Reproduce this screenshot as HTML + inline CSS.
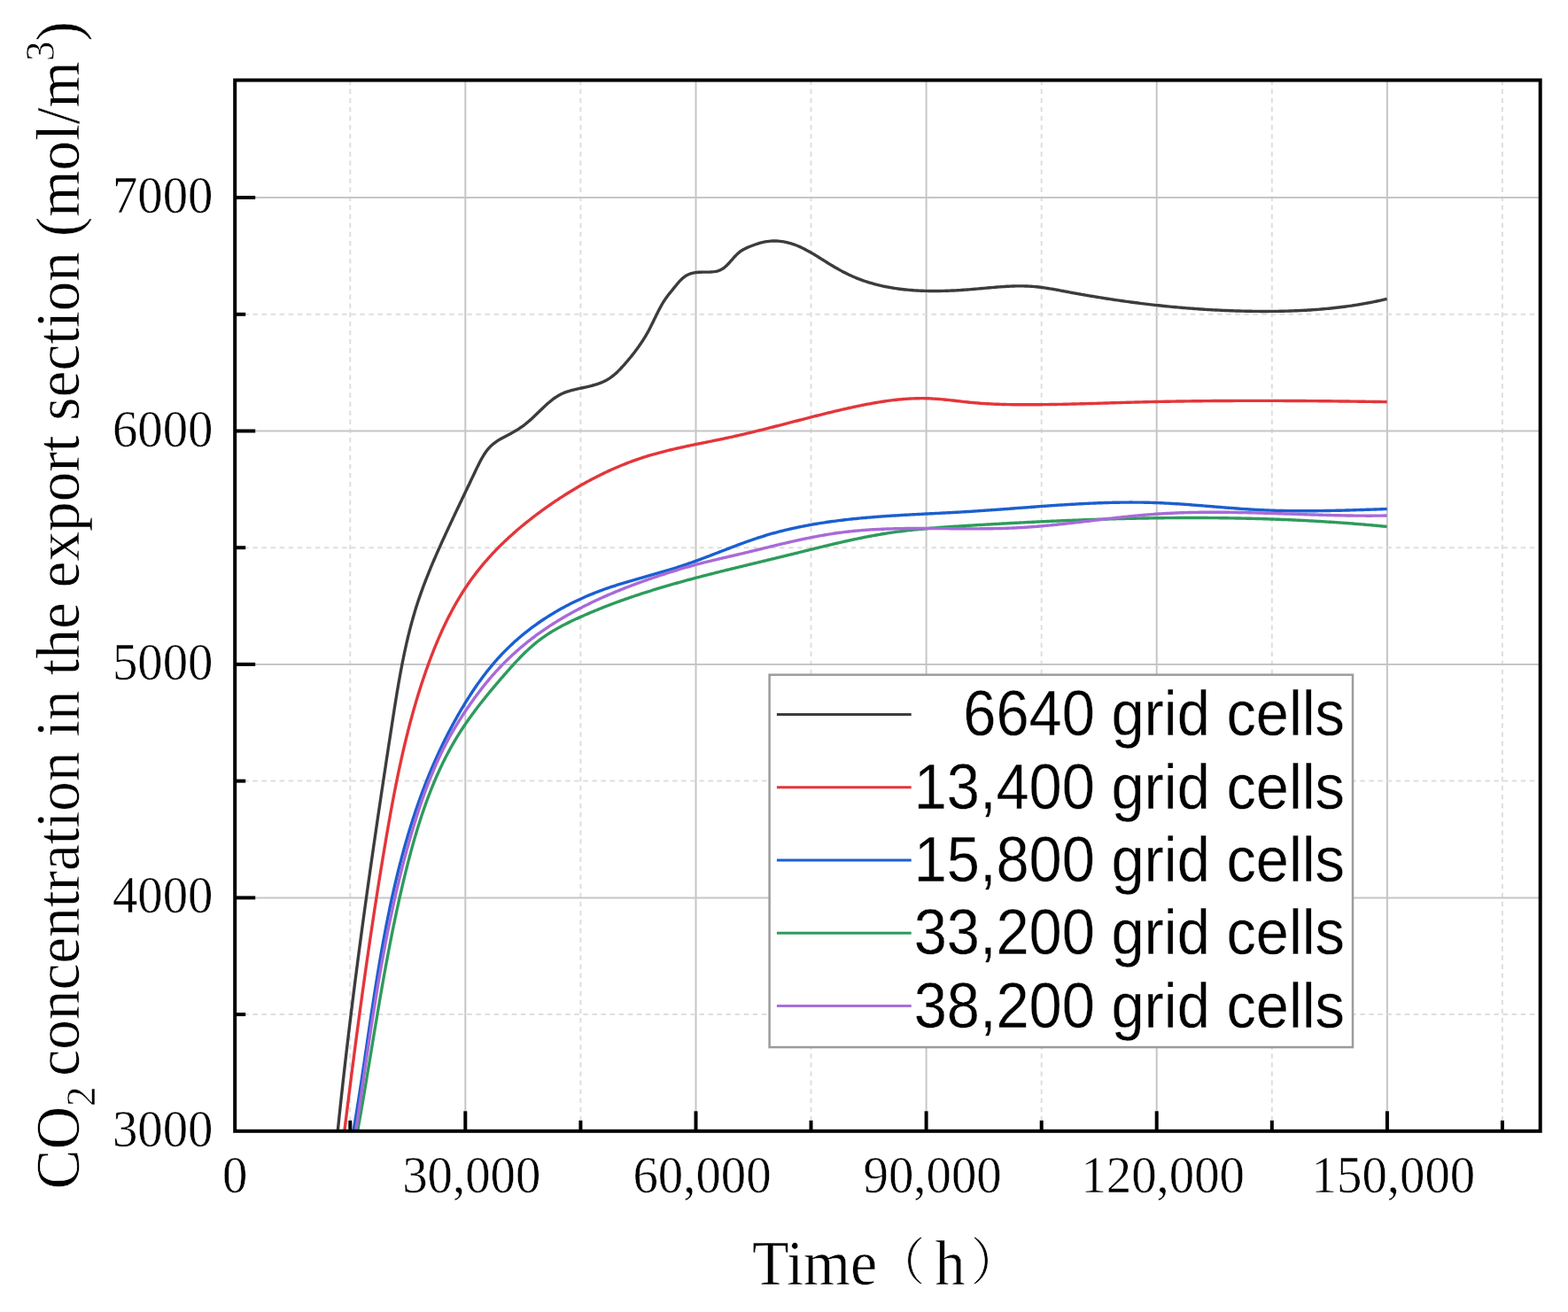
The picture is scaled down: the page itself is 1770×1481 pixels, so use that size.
<!DOCTYPE html>
<html><head><meta charset="utf-8"><title>CO2 concentration chart</title>
<style>html,body{margin:0;padding:0;background:#fff;width:1770px;height:1481px;overflow:hidden}svg{display:block}text{stroke:#fff;stroke-width:0.5px}</style>
</head><body>
<svg width="1770" height="1481" viewBox="0 0 1770 1481">
<rect width="1770" height="1481" fill="#fff"/>
<g id="grid"><line x1="525.3" y1="90.5" x2="525.3" y2="1276.8" stroke="#c6c6c6" stroke-width="2"/><line x1="785.5" y1="90.5" x2="785.5" y2="1276.8" stroke="#c6c6c6" stroke-width="2"/><line x1="1045.6" y1="90.5" x2="1045.6" y2="1276.8" stroke="#c6c6c6" stroke-width="2"/><line x1="1305.7" y1="90.5" x2="1305.7" y2="1276.8" stroke="#c6c6c6" stroke-width="2"/><line x1="1565.9" y1="90.5" x2="1565.9" y2="1276.8" stroke="#c6c6c6" stroke-width="2"/><line x1="395.3" y1="90.5" x2="395.3" y2="1276.8" stroke="#dedede" stroke-width="2" stroke-dasharray="5.5 4.58"/><line x1="655.4" y1="90.5" x2="655.4" y2="1276.8" stroke="#dedede" stroke-width="2" stroke-dasharray="5.5 4.58"/><line x1="915.5" y1="90.5" x2="915.5" y2="1276.8" stroke="#dedede" stroke-width="2" stroke-dasharray="5.5 4.58"/><line x1="1175.7" y1="90.5" x2="1175.7" y2="1276.8" stroke="#dedede" stroke-width="2" stroke-dasharray="5.5 4.58"/><line x1="1435.8" y1="90.5" x2="1435.8" y2="1276.8" stroke="#dedede" stroke-width="2" stroke-dasharray="5.5 4.58"/><line x1="1695.9" y1="90.5" x2="1695.9" y2="1276.8" stroke="#dedede" stroke-width="2" stroke-dasharray="5.5 4.58"/><line x1="265.2" y1="1013.4" x2="1738.7" y2="1013.4" stroke="#c6c6c6" stroke-width="2"/><line x1="265.2" y1="749.9" x2="1738.7" y2="749.9" stroke="#c6c6c6" stroke-width="2"/><line x1="265.2" y1="486.5" x2="1738.7" y2="486.5" stroke="#c6c6c6" stroke-width="2"/><line x1="265.2" y1="223.0" x2="1738.7" y2="223.0" stroke="#c6c6c6" stroke-width="2"/><line x1="265.2" y1="1145.1" x2="1738.7" y2="1145.1" stroke="#dedede" stroke-width="2" stroke-dasharray="5.5 4.58"/><line x1="265.2" y1="881.6" x2="1738.7" y2="881.6" stroke="#dedede" stroke-width="2" stroke-dasharray="5.5 4.58"/><line x1="265.2" y1="618.2" x2="1738.7" y2="618.2" stroke="#dedede" stroke-width="2" stroke-dasharray="5.5 4.58"/><line x1="265.2" y1="354.8" x2="1738.7" y2="354.8" stroke="#dedede" stroke-width="2" stroke-dasharray="5.5 4.58"/></g>
<clipPath id="pc"><rect x="265.2" y="90.5" width="1473.5" height="1186.3"/></clipPath><g clip-path="url(#pc)" fill="none" stroke-width="3.4" stroke-linejoin="round" stroke-linecap="butt"><path d="M380.91,1280.02 L381.13,1277.89 L381.35,1275.76 L381.57,1273.62 L381.79,1271.49 L382.01,1269.36 L382.23,1267.22 L382.46,1265.09 L382.68,1262.96 L382.91,1260.82 L383.13,1258.69 L383.36,1256.56 L383.58,1254.43 L383.81,1252.30 L384.04,1250.16 L384.27,1248.03 L384.50,1245.90 L384.73,1243.77 L384.96,1241.64 L385.19,1239.51 L385.43,1237.38 L385.66,1235.25 L385.89,1233.12 L386.13,1230.99 L386.37,1228.86 L386.60,1226.73 L386.84,1224.60 L387.08,1222.47 L387.31,1220.34 L387.55,1218.21 L387.79,1216.08 L388.03,1213.95 L388.28,1211.83 L388.52,1209.70 L388.76,1207.57 L389.00,1205.44 L389.25,1203.31 L389.49,1201.19 L389.74,1199.06 L389.98,1196.93 L390.23,1194.80 L390.48,1192.68 L390.72,1190.55 L390.97,1188.42 L391.22,1186.30 L391.47,1184.17 L391.72,1182.04 L391.97,1179.92 L392.23,1177.79 L392.48,1175.67 L392.73,1173.54 L392.98,1171.41 L393.24,1169.29 L393.49,1167.16 L393.75,1165.04 L394.01,1162.91 L394.26,1160.79 L394.52,1158.66 L394.78,1156.54 L395.04,1154.41 L395.30,1152.29 L395.56,1150.17 L395.82,1148.04 L396.08,1145.92 L396.34,1143.79 L396.60,1141.67 L396.87,1139.55 L397.13,1137.42 L397.39,1135.30 L397.66,1133.18 L397.92,1131.05 L398.19,1128.93 L398.46,1126.81 L398.72,1124.68 L398.99,1122.56 L399.26,1120.44 L399.53,1118.31 L399.80,1116.19 L400.07,1114.07 L400.34,1111.95 L400.61,1109.83 L400.88,1107.70 L401.15,1105.58 L401.43,1103.46 L401.70,1101.34 L401.98,1099.22 L402.25,1097.09 L402.53,1094.97 L402.80,1092.85 L403.08,1090.73 L403.35,1088.61 L403.63,1086.49 L403.91,1084.37 L404.19,1082.25 L404.47,1080.13 L404.75,1078.00 L405.03,1075.88 L405.31,1073.76 L405.59,1071.64 L405.87,1069.52 L406.15,1067.40 L406.44,1065.28 L406.72,1063.16 L407.00,1061.04 L407.29,1058.92 L407.57,1056.80 L407.86,1054.68 L408.14,1052.56 L408.43,1050.44 L408.72,1048.32 L409.00,1046.20 L409.29,1044.08 L409.58,1041.96 L409.87,1039.84 L410.16,1037.73 L410.45,1035.61 L410.74,1033.49 L411.03,1031.37 L411.32,1029.25 L411.61,1027.13 L411.91,1025.01 L412.20,1022.89 L412.49,1020.77 L412.78,1018.65 L413.08,1016.53 L413.37,1014.42 L413.67,1012.30 L413.96,1010.18 L414.26,1008.06 L414.56,1005.94 L414.85,1003.82 L415.15,1001.70 L415.45,999.59 L415.75,997.47 L416.05,995.35 L416.35,993.23 L416.65,991.11 L416.95,988.99 L417.25,986.88 L417.55,984.76 L417.85,982.64 L418.15,980.52 L418.45,978.40 L418.76,976.28 L419.06,974.17 L419.36,972.05 L419.67,969.93 L419.97,967.81 L420.28,965.69 L420.58,963.58 L420.89,961.46 L421.19,959.34 L421.50,957.22 L421.81,955.10 L422.11,952.99 L422.42,950.87 L422.73,948.75 L423.04,946.63 L423.35,944.51 L423.66,942.40 L423.97,940.28 L424.28,938.16 L424.59,936.04 L424.90,933.92 L425.21,931.81 L425.52,929.69 L425.83,927.57 L426.14,925.45 L426.46,923.33 L426.77,921.22 L427.08,919.10 L427.40,916.98 L427.71,914.86 L428.03,912.75 L428.34,910.63 L428.66,908.51 L428.97,906.39 L429.29,904.27 L429.60,902.16 L429.92,900.04 L430.24,897.92 L430.55,895.80 L430.87,893.68 L431.19,891.56 L431.51,889.45 L431.83,887.33 L432.15,885.21 L432.47,883.09 L432.79,880.97 L433.11,878.85 L433.43,876.74 L433.75,874.62 L434.07,872.50 L434.39,870.38 L434.71,868.26 L435.03,866.14 L435.35,864.03 L435.68,861.91 L436.00,859.79 L436.32,857.67 L436.65,855.55 L436.97,853.43 L437.29,851.31 L437.62,849.19 L437.94,847.08 L438.27,844.96 L438.59,842.84 L438.92,840.72 L439.24,838.60 L439.57,836.48 L439.89,834.36 L440.22,832.24 L440.55,830.12 L440.87,828.00 L441.20,825.88 L441.53,823.76 L441.86,821.64 L442.19,819.52 L442.51,817.40 L442.84,815.28 L443.17,813.16 L443.50,811.04 L443.83,808.92 L444.16,806.80 L444.49,804.68 L444.82,802.57 L445.16,800.45 L445.49,798.33 L445.83,796.21 L446.17,794.09 L446.51,791.97 L446.85,789.85 L447.19,787.74 L447.54,785.62 L447.89,783.50 L448.24,781.39 L448.59,779.27 L448.95,777.16 L449.31,775.05 L449.67,772.93 L450.04,770.82 L450.41,768.71 L450.78,766.60 L451.16,764.49 L451.54,762.39 L451.93,760.28 L452.32,758.17 L452.71,756.07 L453.11,753.96 L453.51,751.86 L453.92,749.76 L454.33,747.66 L454.75,745.56 L455.17,743.47 L455.60,741.37 L456.04,739.28 L456.48,737.19 L456.92,735.10 L457.37,733.01 L457.83,730.92 L458.30,728.84 L458.77,726.75 L459.24,724.67 L459.73,722.59 L460.22,720.51 L460.72,718.44 L461.22,716.36 L461.74,714.29 L462.26,712.22 L462.79,710.15 L463.32,708.09 L463.87,706.02 L464.42,703.96 L464.98,701.90 L465.55,699.85 L466.13,697.79 L466.71,695.74 L467.31,693.69 L467.91,691.65 L468.53,689.60 L469.15,687.56 L469.78,685.52 L470.43,683.49 L471.08,681.46 L471.74,679.43 L472.41,677.40 L473.10,675.37 L473.79,673.35 L474.49,671.33 L475.20,669.32 L475.92,667.31 L476.65,665.30 L477.39,663.29 L478.13,661.28 L478.89,659.28 L479.65,657.28 L480.42,655.29 L481.19,653.29 L481.98,651.30 L482.77,649.31 L483.57,647.33 L484.37,645.34 L485.18,643.36 L486.00,641.38 L486.82,639.41 L487.65,637.43 L488.48,635.46 L489.32,633.50 L490.16,631.53 L491.01,629.57 L491.87,627.61 L492.72,625.65 L493.58,623.69 L494.45,621.74 L495.32,619.79 L496.19,617.84 L497.07,615.89 L497.94,613.95 L498.82,612.01 L499.71,610.07 L500.59,608.13 L501.48,606.19 L502.37,604.26 L503.26,602.33 L504.15,600.40 L505.05,598.48 L505.94,596.55 L506.83,594.63 L507.73,592.71 L508.63,590.79 L509.53,588.87 L510.42,586.96 L511.32,585.04 L512.23,583.13 L513.13,581.21 L514.03,579.30 L514.94,577.39 L515.84,575.48 L516.75,573.56 L517.66,571.65 L518.56,569.73 L519.47,567.82 L520.38,565.90 L521.30,563.99 L522.21,562.07 L523.12,560.15 L524.04,558.23 L524.96,556.31 L525.88,554.38 L526.80,552.46 L527.72,550.53 L528.64,548.59 L529.56,546.66 L530.49,544.72 L531.41,542.78 L532.34,540.84 L533.27,538.89 L534.20,536.94 L535.13,534.98 L536.06,533.03 L536.99,531.06 L537.93,529.09 L538.87,527.13 L539.83,525.17 L540.79,523.22 L541.78,521.28 L542.79,519.37 L543.83,517.48 L544.91,515.61 L546.02,513.79 L547.17,512.00 L548.37,510.26 L549.63,508.56 L550.94,506.93 L552.30,505.35 L553.74,503.85 L555.25,502.42 L556.83,501.07 L558.47,499.79 L560.17,498.57 L561.93,497.41 L563.73,496.30 L565.56,495.23 L567.43,494.18 L569.32,493.16 L571.22,492.16 L573.13,491.16 L575.04,490.16 L576.95,489.15 L578.84,488.12 L580.71,487.06 L582.55,485.97 L584.36,484.85 L586.15,483.70 L587.91,482.51 L589.65,481.28 L591.36,480.03 L593.05,478.73 L594.71,477.41 L596.35,476.05 L597.97,474.66 L599.57,473.24 L601.16,471.79 L602.73,470.32 L604.30,468.83 L605.86,467.32 L607.42,465.80 L608.98,464.27 L610.54,462.75 L612.11,461.23 L613.69,459.72 L615.28,458.23 L616.88,456.76 L618.49,455.32 L620.13,453.92 L621.79,452.55 L623.47,451.23 L625.17,449.96 L626.91,448.74 L628.67,447.59 L630.47,446.50 L632.31,445.48 L634.19,444.55 L636.10,443.69 L638.05,442.91 L640.04,442.20 L642.06,441.55 L644.10,440.95 L646.16,440.39 L648.25,439.87 L650.35,439.38 L652.46,438.91 L654.57,438.45 L656.69,437.99 L658.82,437.53 L660.93,437.06 L663.05,436.58 L665.15,436.08 L667.24,435.56 L669.32,435.00 L671.38,434.41 L673.42,433.78 L675.44,433.11 L677.43,432.39 L679.38,431.61 L681.31,430.76 L683.20,429.86 L685.05,428.88 L686.86,427.82 L688.63,426.68 L690.35,425.46 L692.03,424.17 L693.67,422.81 L695.27,421.39 L696.84,419.91 L698.38,418.39 L699.89,416.83 L701.39,415.25 L702.86,413.64 L704.32,412.02 L705.76,410.39 L707.18,408.75 L708.60,407.10 L710.00,405.44 L711.38,403.77 L712.74,402.10 L714.09,400.41 L715.42,398.72 L716.74,397.01 L718.03,395.29 L719.31,393.57 L720.56,391.83 L721.80,390.07 L723.01,388.31 L724.21,386.53 L725.38,384.74 L726.53,382.94 L727.66,381.13 L728.76,379.30 L729.84,377.45 L730.90,375.59 L731.93,373.72 L732.94,371.83 L733.92,369.93 L734.89,368.02 L735.85,366.10 L736.79,364.17 L737.73,362.24 L738.66,360.32 L739.59,358.39 L740.53,356.46 L741.47,354.55 L742.43,352.64 L743.39,350.73 L744.38,348.85 L745.38,346.97 L746.41,345.12 L747.46,343.28 L748.55,341.46 L749.67,339.67 L750.82,337.90 L752.02,336.17 L753.26,334.46 L754.55,332.78 L755.87,331.12 L757.22,329.47 L758.59,327.81 L759.96,326.12 L761.32,324.41 L762.70,322.69 L764.09,320.98 L765.50,319.30 L766.95,317.68 L768.43,316.12 L769.96,314.65 L771.55,313.28 L773.20,312.04 L774.92,310.94 L776.72,310.00 L778.59,309.22 L780.53,308.58 L782.53,308.08 L784.59,307.70 L786.70,307.44 L788.86,307.28 L791.04,307.19 L793.25,307.15 L795.47,307.15 L797.69,307.14 L799.90,307.12 L802.08,307.05 L804.24,306.91 L806.34,306.67 L808.40,306.32 L810.39,305.83 L812.30,305.17 L814.13,304.32 L815.87,303.29 L817.54,302.09 L819.14,300.75 L820.69,299.29 L822.21,297.74 L823.70,296.13 L825.17,294.47 L826.63,292.79 L828.11,291.12 L829.60,289.48 L831.12,287.89 L832.68,286.38 L834.30,284.97 L835.98,283.68 L837.73,282.52 L839.53,281.46 L841.39,280.50 L843.29,279.61 L845.23,278.78 L847.21,277.99 L849.21,277.24 L851.23,276.49 L853.27,275.76 L855.33,275.07 L857.40,274.42 L859.48,273.84 L861.58,273.34 L863.69,272.92 L865.80,272.58 L867.93,272.32 L870.05,272.14 L872.18,272.03 L874.30,272.00 L876.43,272.05 L878.55,272.16 L880.66,272.35 L882.76,272.61 L884.85,272.93 L886.92,273.32 L888.98,273.78 L891.02,274.30 L893.04,274.89 L895.04,275.53 L897.03,276.22 L899.00,276.97 L900.95,277.77 L902.89,278.62 L904.82,279.50 L906.74,280.43 L908.64,281.39 L910.53,282.39 L912.42,283.41 L914.29,284.47 L916.16,285.55 L918.02,286.64 L919.88,287.76 L921.73,288.89 L923.57,290.03 L925.42,291.19 L927.26,292.34 L929.10,293.50 L930.94,294.66 L932.78,295.81 L934.62,296.95 L936.47,298.09 L938.32,299.21 L940.17,300.32 L942.03,301.42 L943.89,302.50 L945.75,303.56 L947.63,304.61 L949.51,305.63 L951.39,306.64 L953.29,307.62 L955.19,308.58 L957.10,309.52 L959.02,310.44 L960.94,311.32 L962.88,312.18 L964.83,313.02 L966.78,313.83 L968.75,314.61 L970.72,315.36 L972.71,316.10 L974.70,316.80 L976.70,317.49 L978.71,318.14 L980.72,318.78 L982.75,319.39 L984.78,319.98 L986.81,320.54 L988.86,321.09 L990.91,321.61 L992.97,322.11 L995.04,322.58 L997.11,323.04 L999.19,323.47 L1001.27,323.89 L1003.36,324.28 L1005.46,324.66 L1007.56,325.01 L1009.66,325.35 L1011.77,325.66 L1013.89,325.96 L1016.01,326.24 L1018.13,326.50 L1020.26,326.75 L1022.40,326.97 L1024.53,327.18 L1026.67,327.38 L1028.82,327.55 L1030.96,327.71 L1033.11,327.86 L1035.27,327.99 L1037.42,328.10 L1039.58,328.20 L1041.74,328.29 L1043.90,328.36 L1046.06,328.42 L1048.23,328.46 L1050.40,328.49 L1052.57,328.51 L1054.74,328.51 L1056.91,328.51 L1059.08,328.49 L1061.25,328.46 L1063.42,328.42 L1065.59,328.36 L1067.76,328.30 L1069.94,328.23 L1072.11,328.14 L1074.28,328.05 L1076.45,327.95 L1078.62,327.84 L1080.78,327.72 L1082.95,327.59 L1085.11,327.45 L1087.28,327.31 L1089.44,327.16 L1091.59,327.00 L1093.75,326.84 L1095.90,326.66 L1098.05,326.49 L1100.20,326.30 L1102.35,326.12 L1104.49,325.93 L1106.63,325.73 L1108.76,325.54 L1110.90,325.34 L1113.03,325.15 L1115.16,324.95 L1117.29,324.76 L1119.41,324.57 L1121.54,324.39 L1123.66,324.21 L1125.78,324.04 L1127.90,323.88 L1130.02,323.72 L1132.13,323.58 L1134.25,323.44 L1136.36,323.32 L1138.48,323.21 L1140.59,323.12 L1142.70,323.04 L1144.81,322.97 L1146.93,322.92 L1149.04,322.89 L1151.15,322.88 L1153.26,322.89 L1155.37,322.92 L1157.48,322.97 L1159.59,323.05 L1161.70,323.14 L1163.81,323.27 L1165.92,323.42 L1168.03,323.59 L1170.15,323.80 L1172.26,324.02 L1174.37,324.27 L1176.49,324.54 L1178.60,324.84 L1180.72,325.14 L1182.83,325.47 L1184.95,325.81 L1187.07,326.16 L1189.18,326.53 L1191.30,326.90 L1193.42,327.29 L1195.54,327.68 L1197.66,328.07 L1199.78,328.47 L1201.89,328.87 L1204.01,329.27 L1206.13,329.67 L1208.25,330.06 L1210.37,330.46 L1212.49,330.85 L1214.61,331.23 L1216.73,331.61 L1218.85,331.99 L1220.97,332.37 L1223.09,332.74 L1225.21,333.11 L1227.33,333.48 L1229.45,333.84 L1231.57,334.20 L1233.69,334.55 L1235.81,334.91 L1237.93,335.26 L1240.05,335.60 L1242.17,335.94 L1244.29,336.28 L1246.42,336.62 L1248.54,336.95 L1250.66,337.28 L1252.78,337.61 L1254.90,337.93 L1257.02,338.25 L1259.15,338.56 L1261.27,338.87 L1263.39,339.18 L1265.51,339.48 L1267.64,339.78 L1269.76,340.08 L1271.88,340.38 L1274.00,340.67 L1276.13,340.95 L1278.25,341.23 L1280.37,341.51 L1282.50,341.79 L1284.62,342.06 L1286.75,342.33 L1288.87,342.60 L1291.00,342.86 L1293.12,343.11 L1295.25,343.37 L1297.37,343.62 L1299.50,343.86 L1301.62,344.11 L1303.75,344.35 L1305.87,344.58 L1308.00,344.81 L1310.13,345.04 L1312.25,345.26 L1314.38,345.48 L1316.51,345.70 L1318.63,345.91 L1320.76,346.12 L1322.89,346.33 L1325.02,346.53 L1327.14,346.72 L1329.27,346.92 L1331.40,347.11 L1333.53,347.29 L1335.66,347.47 L1337.79,347.65 L1339.92,347.83 L1342.05,348.00 L1344.18,348.16 L1346.31,348.32 L1348.44,348.48 L1350.57,348.64 L1352.70,348.79 L1354.83,348.93 L1356.96,349.07 L1359.09,349.21 L1361.23,349.35 L1363.36,349.48 L1365.49,349.60 L1367.62,349.72 L1369.76,349.84 L1371.89,349.96 L1374.03,350.07 L1376.16,350.17 L1378.29,350.27 L1380.43,350.37 L1382.56,350.46 L1384.70,350.55 L1386.83,350.64 L1388.97,350.72 L1391.11,350.79 L1393.24,350.87 L1395.38,350.93 L1397.52,351.00 L1399.65,351.06 L1401.79,351.11 L1403.93,351.16 L1406.07,351.21 L1408.21,351.25 L1410.34,351.29 L1412.48,351.32 L1414.62,351.35 L1416.76,351.38 L1418.90,351.40 L1421.04,351.42 L1423.19,351.43 L1425.33,351.44 L1427.47,351.44 L1429.61,351.44 L1431.75,351.43 L1433.90,351.42 L1436.04,351.41 L1438.18,351.39 L1440.32,351.36 L1442.47,351.33 L1444.61,351.30 L1446.75,351.25 L1448.89,351.21 L1451.04,351.16 L1453.18,351.10 L1455.32,351.03 L1457.46,350.96 L1459.61,350.89 L1461.75,350.81 L1463.89,350.72 L1466.03,350.63 L1468.17,350.53 L1470.31,350.42 L1472.45,350.31 L1474.59,350.19 L1476.73,350.06 L1478.87,349.93 L1481.01,349.79 L1483.15,349.64 L1485.28,349.49 L1487.42,349.33 L1489.55,349.16 L1491.69,348.98 L1493.82,348.80 L1495.96,348.61 L1498.09,348.41 L1500.22,348.20 L1502.35,347.99 L1504.48,347.76 L1506.61,347.53 L1508.74,347.30 L1510.86,347.05 L1512.99,346.79 L1515.11,346.53 L1517.24,346.26 L1519.36,345.98 L1521.48,345.69 L1523.60,345.39 L1525.72,345.08 L1527.83,344.76 L1529.95,344.44 L1532.06,344.10 L1534.17,343.76 L1536.29,343.40 L1538.40,343.04 L1540.50,342.66 L1542.61,342.28 L1544.72,341.89 L1546.82,341.49 L1548.92,341.07 L1551.02,340.65 L1553.12,340.22 L1555.22,339.77 L1557.31,339.32 L1559.40,338.85 L1561.49,338.38 L1563.58,337.89 L1565.67,337.40" stroke="#3c3c3c"/><path d="M388.44,1279.95 L388.68,1278.04 L388.92,1276.12 L389.15,1274.21 L389.39,1272.29 L389.63,1270.38 L389.86,1268.46 L390.10,1266.55 L390.34,1264.63 L390.57,1262.72 L390.81,1260.80 L391.05,1258.89 L391.29,1256.97 L391.53,1255.06 L391.77,1253.14 L392.01,1251.23 L392.25,1249.31 L392.49,1247.39 L392.73,1245.48 L392.97,1243.56 L393.21,1241.65 L393.45,1239.73 L393.69,1237.82 L393.93,1235.90 L394.17,1233.99 L394.41,1232.07 L394.66,1230.15 L394.90,1228.24 L395.14,1226.32 L395.39,1224.41 L395.63,1222.49 L395.87,1220.57 L396.12,1218.66 L396.36,1216.74 L396.61,1214.83 L396.85,1212.91 L397.10,1211.00 L397.35,1209.08 L397.59,1207.16 L397.84,1205.25 L398.09,1203.33 L398.33,1201.42 L398.58,1199.50 L398.83,1197.58 L399.08,1195.67 L399.33,1193.75 L399.58,1191.83 L399.83,1189.92 L400.08,1188.00 L400.33,1186.09 L400.58,1184.17 L400.83,1182.25 L401.08,1180.34 L401.33,1178.42 L401.59,1176.51 L401.84,1174.59 L402.09,1172.67 L402.35,1170.76 L402.60,1168.84 L402.86,1166.93 L403.11,1165.01 L403.37,1163.10 L403.62,1161.18 L403.88,1159.26 L404.13,1157.35 L404.39,1155.43 L404.65,1153.52 L404.91,1151.60 L405.17,1149.69 L405.42,1147.77 L405.68,1145.85 L405.94,1143.94 L406.20,1142.02 L406.47,1140.11 L406.73,1138.19 L406.99,1136.28 L407.25,1134.36 L407.51,1132.45 L407.78,1130.53 L408.04,1128.62 L408.30,1126.70 L408.57,1124.79 L408.83,1122.87 L409.10,1120.96 L409.36,1119.04 L409.63,1117.13 L409.90,1115.21 L410.17,1113.30 L410.43,1111.38 L410.70,1109.47 L410.97,1107.55 L411.24,1105.64 L411.51,1103.72 L411.78,1101.81 L412.05,1099.89 L412.32,1097.98 L412.60,1096.07 L412.87,1094.15 L413.14,1092.24 L413.42,1090.32 L413.69,1088.41 L413.97,1086.50 L414.24,1084.58 L414.52,1082.67 L414.79,1080.76 L415.07,1078.84 L415.35,1076.93 L415.63,1075.02 L415.91,1073.10 L416.19,1071.19 L416.47,1069.28 L416.75,1067.36 L417.03,1065.45 L417.31,1063.54 L417.59,1061.62 L417.88,1059.71 L418.16,1057.80 L418.44,1055.89 L418.73,1053.98 L419.01,1052.06 L419.30,1050.15 L419.59,1048.24 L419.87,1046.33 L420.16,1044.42 L420.45,1042.50 L420.74,1040.59 L421.03,1038.68 L421.32,1036.77 L421.61,1034.86 L421.90,1032.95 L422.20,1031.04 L422.49,1029.13 L422.78,1027.22 L423.08,1025.31 L423.37,1023.39 L423.67,1021.48 L423.96,1019.57 L424.26,1017.66 L424.56,1015.75 L424.86,1013.84 L425.16,1011.94 L425.46,1010.03 L425.76,1008.12 L426.06,1006.21 L426.36,1004.30 L426.66,1002.39 L426.96,1000.48 L427.27,998.57 L427.57,996.66 L427.88,994.76 L428.18,992.85 L428.49,990.94 L428.80,989.03 L429.11,987.12 L429.42,985.22 L429.72,983.31 L430.04,981.40 L430.35,979.49 L430.66,977.59 L430.97,975.68 L431.28,973.77 L431.60,971.87 L431.91,969.96 L432.23,968.05 L432.54,966.15 L432.86,964.24 L433.18,962.34 L433.50,960.43 L433.82,958.53 L434.14,956.62 L434.46,954.72 L434.78,952.81 L435.10,950.91 L435.43,949.00 L435.75,947.10 L436.07,945.19 L436.40,943.29 L436.73,941.39 L437.06,939.48 L437.39,937.58 L437.72,935.68 L438.05,933.78 L438.38,931.87 L438.72,929.97 L439.05,928.07 L439.39,926.17 L439.73,924.27 L440.07,922.37 L440.41,920.47 L440.75,918.57 L441.09,916.67 L441.44,914.77 L441.79,912.87 L442.14,910.97 L442.49,909.07 L442.84,907.18 L443.20,905.28 L443.55,903.38 L443.91,901.49 L444.27,899.59 L444.64,897.70 L445.00,895.80 L445.37,893.91 L445.74,892.01 L446.11,890.12 L446.48,888.23 L446.86,886.33 L447.23,884.44 L447.61,882.55 L448.00,880.66 L448.38,878.77 L448.77,876.88 L449.16,874.99 L449.55,873.10 L449.95,871.22 L450.35,869.33 L450.75,867.44 L451.15,865.56 L451.56,863.67 L451.97,861.79 L452.38,859.90 L452.79,858.02 L453.21,856.14 L453.63,854.26 L454.06,852.38 L454.48,850.49 L454.91,848.62 L455.35,846.74 L455.79,844.86 L456.23,842.98 L456.67,841.10 L457.12,839.23 L457.57,837.35 L458.02,835.48 L458.48,833.61 L458.94,831.73 L459.40,829.86 L459.87,827.99 L460.34,826.12 L460.81,824.25 L461.29,822.38 L461.78,820.51 L462.26,818.65 L462.75,816.78 L463.25,814.92 L463.75,813.05 L464.25,811.19 L464.75,809.33 L465.26,807.47 L465.78,805.61 L466.30,803.75 L466.82,801.89 L467.35,800.03 L467.88,798.18 L468.42,796.32 L468.96,794.47 L469.50,792.61 L470.05,790.76 L470.60,788.91 L471.16,787.06 L471.73,785.21 L472.29,783.36 L472.87,781.52 L473.44,779.67 L474.02,777.83 L474.61,775.98 L475.20,774.14 L475.80,772.30 L476.40,770.46 L477.01,768.62 L477.62,766.78 L478.23,764.95 L478.86,763.11 L479.48,761.28 L480.11,759.44 L480.75,757.61 L481.39,755.78 L482.04,753.95 L482.70,752.13 L483.36,750.30 L484.02,748.48 L484.69,746.66 L485.37,744.84 L486.05,743.02 L486.74,741.20 L487.44,739.39 L488.14,737.58 L488.85,735.77 L489.56,733.97 L490.28,732.17 L491.01,730.37 L491.74,728.57 L492.48,726.78 L493.23,724.99 L493.99,723.20 L494.75,721.42 L495.52,719.64 L496.29,717.86 L497.08,716.09 L497.87,714.32 L498.67,712.55 L499.47,710.79 L500.29,709.04 L501.11,707.28 L501.94,705.54 L502.78,703.79 L503.62,702.05 L504.47,700.32 L505.34,698.59 L506.21,696.86 L507.08,695.14 L507.97,693.43 L508.87,691.72 L509.77,690.02 L510.68,688.32 L511.60,686.62 L512.53,684.94 L513.47,683.25 L514.42,681.58 L515.38,679.91 L516.35,678.24 L517.32,676.58 L518.31,674.93 L519.30,673.29 L520.31,671.65 L521.32,670.01 L522.34,668.39 L523.38,666.77 L524.42,665.15 L525.48,663.55 L526.54,661.95 L527.61,660.36 L528.70,658.77 L529.79,657.20 L530.90,655.63 L532.02,654.07 L533.14,652.51 L534.28,650.97 L535.43,649.43 L536.59,647.90 L537.76,646.37 L538.94,644.86 L540.13,643.35 L541.33,641.85 L542.54,640.36 L543.76,638.88 L544.99,637.40 L546.23,635.93 L547.48,634.47 L548.74,633.02 L550.01,631.57 L551.29,630.14 L552.58,628.70 L553.88,627.28 L555.18,625.87 L556.50,624.46 L557.82,623.06 L559.16,621.67 L560.50,620.28 L561.85,618.90 L563.21,617.53 L564.57,616.17 L565.95,614.81 L567.33,613.46 L568.72,612.12 L570.12,610.78 L571.52,609.46 L572.94,608.14 L574.36,606.82 L575.79,605.52 L577.22,604.22 L578.66,602.93 L580.11,601.64 L581.57,600.36 L583.03,599.09 L584.50,597.83 L585.98,596.57 L587.46,595.32 L588.95,594.07 L590.44,592.84 L591.94,591.61 L593.45,590.38 L594.96,589.17 L596.48,587.96 L598.00,586.75 L599.53,585.56 L601.06,584.37 L602.60,583.18 L604.15,582.01 L605.70,580.84 L607.25,579.67 L608.81,578.52 L610.37,577.36 L611.94,576.22 L613.51,575.08 L615.09,573.95 L616.67,572.82 L618.25,571.71 L619.84,570.59 L621.43,569.49 L623.03,568.39 L624.63,567.29 L626.23,566.21 L627.84,565.12 L629.45,564.05 L631.07,562.98 L632.69,561.92 L634.31,560.87 L635.93,559.82 L637.56,558.78 L639.20,557.74 L640.84,556.72 L642.48,555.70 L644.12,554.69 L645.77,553.68 L647.42,552.68 L649.08,551.69 L650.74,550.71 L652.40,549.73 L654.07,548.77 L655.74,547.81 L657.42,546.85 L659.09,545.91 L660.78,544.97 L662.46,544.04 L664.15,543.12 L665.85,542.21 L667.55,541.30 L669.25,540.41 L670.95,539.52 L672.66,538.64 L674.38,537.77 L676.09,536.90 L677.81,536.05 L679.54,535.20 L681.27,534.37 L683.00,533.54 L684.73,532.72 L686.47,531.91 L688.22,531.11 L689.97,530.31 L691.72,529.53 L693.47,528.76 L695.23,527.99 L697.00,527.23 L698.76,526.49 L700.53,525.75 L702.31,525.02 L704.09,524.30 L705.87,523.60 L707.65,522.90 L709.44,522.21 L711.24,521.53 L713.04,520.86 L714.84,520.20 L716.64,519.55 L718.45,518.91 L720.27,518.28 L722.08,517.67 L723.91,517.06 L725.73,516.46 L727.56,515.87 L729.39,515.30 L731.23,514.73 L733.07,514.17 L734.91,513.63 L736.76,513.09 L738.61,512.56 L740.47,512.04 L742.32,511.53 L744.19,511.03 L746.05,510.54 L747.92,510.05 L749.79,509.57 L751.66,509.10 L753.53,508.64 L755.41,508.18 L757.29,507.73 L759.17,507.28 L761.05,506.84 L762.94,506.41 L764.83,505.98 L766.72,505.56 L768.61,505.14 L770.50,504.72 L772.40,504.31 L774.29,503.91 L776.19,503.50 L778.09,503.10 L779.99,502.70 L781.89,502.31 L783.79,501.92 L785.69,501.53 L787.59,501.14 L789.50,500.75 L791.40,500.36 L793.31,499.98 L795.21,499.59 L797.11,499.21 L799.02,498.83 L800.92,498.44 L802.83,498.06 L804.73,497.67 L806.64,497.28 L808.54,496.90 L810.44,496.51 L812.34,496.11 L814.24,495.72 L816.14,495.32 L818.04,494.92 L819.94,494.52 L821.84,494.11 L823.73,493.70 L825.63,493.29 L827.52,492.87 L829.41,492.45 L831.30,492.02 L833.19,491.60 L835.08,491.16 L836.96,490.73 L838.85,490.29 L840.73,489.85 L842.62,489.40 L844.50,488.96 L846.38,488.51 L848.26,488.05 L850.14,487.60 L852.02,487.14 L853.89,486.68 L855.77,486.22 L857.64,485.76 L859.52,485.29 L861.39,484.82 L863.27,484.35 L865.14,483.88 L867.01,483.41 L868.88,482.93 L870.76,482.46 L872.63,481.98 L874.50,481.50 L876.37,481.02 L878.24,480.54 L880.10,480.06 L881.97,479.58 L883.84,479.10 L885.71,478.61 L887.58,478.13 L889.45,477.65 L891.31,477.16 L893.18,476.68 L895.05,476.19 L896.92,475.71 L898.79,475.23 L900.65,474.74 L902.52,474.26 L904.39,473.78 L906.26,473.30 L908.13,472.81 L910.00,472.33 L911.86,471.86 L913.73,471.38 L915.60,470.90 L917.47,470.42 L919.34,469.95 L921.22,469.48 L923.09,469.01 L924.96,468.54 L926.83,468.07 L928.71,467.60 L930.58,467.14 L932.45,466.68 L934.33,466.22 L936.21,465.76 L938.08,465.31 L939.96,464.85 L941.84,464.41 L943.72,463.96 L945.60,463.52 L947.48,463.07 L949.36,462.64 L951.25,462.20 L953.13,461.77 L955.02,461.34 L956.91,460.92 L958.80,460.50 L960.68,460.08 L962.58,459.67 L964.47,459.26 L966.36,458.85 L968.26,458.45 L970.15,458.06 L972.05,457.67 L973.95,457.29 L975.85,456.91 L977.75,456.54 L979.65,456.18 L981.55,455.82 L983.45,455.47 L985.36,455.12 L987.26,454.79 L989.17,454.46 L991.07,454.14 L992.98,453.83 L994.89,453.53 L996.80,453.24 L998.71,452.95 L1000.62,452.68 L1002.53,452.41 L1004.44,452.16 L1006.35,451.92 L1008.27,451.68 L1010.18,451.46 L1012.09,451.25 L1014.01,451.05 L1015.92,450.87 L1017.84,450.69 L1019.76,450.53 L1021.67,450.38 L1023.59,450.25 L1025.51,450.13 L1027.42,450.02 L1029.34,449.92 L1031.26,449.84 L1033.18,449.78 L1035.10,449.72 L1037.02,449.69 L1038.94,449.67 L1040.86,449.66 L1042.78,449.67 L1044.70,449.70 L1046.62,449.74 L1048.54,449.80 L1050.46,449.88 L1052.38,449.98 L1054.30,450.09 L1056.22,450.21 L1058.14,450.35 L1060.06,450.50 L1061.98,450.66 L1063.90,450.84 L1065.82,451.02 L1067.74,451.21 L1069.66,451.41 L1071.58,451.62 L1073.50,451.83 L1075.43,452.04 L1077.35,452.26 L1079.27,452.48 L1081.19,452.70 L1083.11,452.92 L1085.03,453.14 L1086.95,453.36 L1088.88,453.57 L1090.80,453.78 L1092.72,453.99 L1094.64,454.19 L1096.57,454.38 L1098.49,454.56 L1100.41,454.73 L1102.33,454.90 L1104.26,455.05 L1106.18,455.20 L1108.11,455.34 L1110.03,455.47 L1111.95,455.59 L1113.88,455.71 L1115.80,455.81 L1117.73,455.92 L1119.65,456.01 L1121.58,456.10 L1123.50,456.18 L1125.43,456.25 L1127.35,456.32 L1129.28,456.39 L1131.20,456.44 L1133.13,456.49 L1135.05,456.54 L1136.98,456.58 L1138.91,456.62 L1140.83,456.65 L1142.76,456.68 L1144.69,456.71 L1146.61,456.73 L1148.54,456.74 L1150.47,456.76 L1152.39,456.77 L1154.32,456.77 L1156.25,456.78 L1158.18,456.78 L1160.10,456.78 L1162.03,456.78 L1163.96,456.77 L1165.89,456.76 L1167.82,456.75 L1169.75,456.74 L1171.67,456.73 L1173.60,456.71 L1175.53,456.69 L1177.46,456.67 L1179.39,456.65 L1181.32,456.62 L1183.25,456.60 L1185.18,456.57 L1187.11,456.54 L1189.04,456.51 L1190.97,456.48 L1192.90,456.44 L1194.83,456.41 L1196.76,456.37 L1198.69,456.33 L1200.62,456.29 L1202.55,456.25 L1204.48,456.20 L1206.41,456.16 L1208.34,456.11 L1210.27,456.07 L1212.20,456.02 L1214.13,455.97 L1216.06,455.92 L1217.99,455.87 L1219.92,455.82 L1221.85,455.77 L1223.79,455.72 L1225.72,455.66 L1227.65,455.61 L1229.58,455.55 L1231.51,455.50 L1233.44,455.44 L1235.37,455.39 L1237.30,455.33 L1239.24,455.27 L1241.17,455.22 L1243.10,455.16 L1245.03,455.10 L1246.96,455.04 L1248.89,454.99 L1250.82,454.93 L1252.76,454.87 L1254.69,454.81 L1256.62,454.76 L1258.55,454.70 L1260.48,454.64 L1262.41,454.58 L1264.35,454.53 L1266.28,454.47 L1268.21,454.42 L1270.14,454.36 L1272.07,454.31 L1274.00,454.25 L1275.94,454.20 L1277.87,454.15 L1279.80,454.10 L1281.73,454.05 L1283.66,454.00 L1285.59,453.95 L1287.53,453.90 L1289.46,453.85 L1291.39,453.80 L1293.32,453.76 L1295.25,453.71 L1297.18,453.67 L1299.11,453.63 L1301.05,453.58 L1302.98,453.54 L1304.91,453.50 L1306.84,453.46 L1308.77,453.42 L1310.70,453.38 L1312.63,453.34 L1314.57,453.31 L1316.50,453.27 L1318.43,453.24 L1320.36,453.20 L1322.29,453.17 L1324.22,453.13 L1326.15,453.10 L1328.08,453.07 L1330.02,453.04 L1331.95,453.01 L1333.88,452.98 L1335.81,452.95 L1337.74,452.92 L1339.67,452.90 L1341.60,452.87 L1343.53,452.84 L1345.47,452.82 L1347.40,452.79 L1349.33,452.77 L1351.26,452.75 L1353.19,452.73 L1355.12,452.70 L1357.05,452.68 L1358.98,452.66 L1360.91,452.64 L1362.85,452.63 L1364.78,452.61 L1366.71,452.59 L1368.64,452.57 L1370.57,452.56 L1372.50,452.54 L1374.43,452.53 L1376.36,452.51 L1378.30,452.50 L1380.23,452.49 L1382.16,452.48 L1384.09,452.47 L1386.02,452.45 L1387.95,452.44 L1389.88,452.43 L1391.81,452.43 L1393.74,452.42 L1395.68,452.41 L1397.61,452.40 L1399.54,452.40 L1401.47,452.39 L1403.40,452.39 L1405.33,452.38 L1407.26,452.38 L1409.19,452.37 L1411.13,452.37 L1413.06,452.37 L1414.99,452.37 L1416.92,452.37 L1418.85,452.36 L1420.78,452.36 L1422.71,452.37 L1424.65,452.37 L1426.58,452.37 L1428.51,452.37 L1430.44,452.37 L1432.37,452.38 L1434.30,452.38 L1436.23,452.38 L1438.17,452.39 L1440.10,452.39 L1442.03,452.40 L1443.96,452.41 L1445.89,452.41 L1447.82,452.42 L1449.75,452.43 L1451.69,452.44 L1453.62,452.45 L1455.55,452.46 L1457.48,452.47 L1459.41,452.48 L1461.34,452.49 L1463.28,452.50 L1465.21,452.51 L1467.14,452.52 L1469.07,452.54 L1471.00,452.55 L1472.94,452.56 L1474.87,452.58 L1476.80,452.59 L1478.73,452.61 L1480.66,452.62 L1482.59,452.64 L1484.53,452.65 L1486.46,452.67 L1488.39,452.69 L1490.32,452.71 L1492.26,452.72 L1494.19,452.74 L1496.12,452.76 L1498.05,452.78 L1499.98,452.80 L1501.92,452.82 L1503.85,452.84 L1505.78,452.86 L1507.71,452.88 L1509.65,452.90 L1511.58,452.93 L1513.51,452.95 L1515.44,452.97 L1517.38,452.99 L1519.31,453.02 L1521.24,453.04 L1523.17,453.07 L1525.11,453.09 L1527.04,453.12 L1528.97,453.14 L1530.90,453.17 L1532.84,453.19 L1534.77,453.22 L1536.70,453.24 L1538.64,453.27 L1540.57,453.30 L1542.50,453.33 L1544.44,453.35 L1546.37,453.38 L1548.30,453.41 L1550.24,453.44 L1552.17,453.47 L1554.10,453.50 L1556.04,453.53 L1557.97,453.56 L1559.90,453.59 L1561.84,453.62 L1563.77,453.65 L1565.70,453.68" stroke="#e3363a"/><path d="M398.48,1279.73 L398.77,1278.00 L399.07,1276.26 L399.37,1274.52 L399.66,1272.78 L399.95,1271.04 L400.25,1269.30 L400.54,1267.55 L400.83,1265.81 L401.11,1264.06 L401.40,1262.32 L401.69,1260.57 L401.97,1258.82 L402.26,1257.07 L402.54,1255.32 L402.82,1253.57 L403.10,1251.82 L403.38,1250.07 L403.66,1248.32 L403.94,1246.56 L404.21,1244.81 L404.49,1243.05 L404.77,1241.30 L405.04,1239.54 L405.31,1237.78 L405.59,1236.02 L405.86,1234.26 L406.13,1232.50 L406.40,1230.74 L406.67,1228.98 L406.94,1227.22 L407.21,1225.46 L407.48,1223.69 L407.74,1221.93 L408.01,1220.16 L408.28,1218.40 L408.54,1216.63 L408.81,1214.87 L409.07,1213.10 L409.34,1211.33 L409.60,1209.56 L409.87,1207.79 L410.13,1206.02 L410.39,1204.25 L410.66,1202.48 L410.92,1200.71 L411.18,1198.94 L411.45,1197.17 L411.71,1195.40 L411.97,1193.63 L412.23,1191.85 L412.49,1190.08 L412.75,1188.30 L413.02,1186.53 L413.28,1184.75 L413.54,1182.98 L413.80,1181.20 L414.06,1179.43 L414.33,1177.65 L414.59,1175.88 L414.85,1174.10 L415.11,1172.32 L415.37,1170.54 L415.64,1168.77 L415.90,1166.99 L416.16,1165.21 L416.43,1163.43 L416.69,1161.65 L416.95,1159.87 L417.22,1158.09 L417.48,1156.31 L417.75,1154.53 L418.02,1152.75 L418.28,1150.98 L418.55,1149.20 L418.82,1147.41 L419.08,1145.63 L419.35,1143.85 L419.62,1142.07 L419.89,1140.29 L420.16,1138.51 L420.43,1136.73 L420.70,1134.95 L420.98,1133.17 L421.25,1131.39 L421.52,1129.61 L421.80,1127.83 L422.07,1126.05 L422.35,1124.27 L422.63,1122.49 L422.91,1120.70 L423.19,1118.92 L423.47,1117.14 L423.75,1115.36 L424.03,1113.58 L424.31,1111.80 L424.60,1110.02 L424.88,1108.24 L425.17,1106.46 L425.46,1104.68 L425.75,1102.90 L426.04,1101.12 L426.33,1099.34 L426.62,1097.57 L426.92,1095.79 L427.21,1094.01 L427.51,1092.23 L427.81,1090.45 L428.11,1088.67 L428.41,1086.90 L428.71,1085.12 L429.01,1083.34 L429.32,1081.57 L429.62,1079.79 L429.93,1078.01 L430.24,1076.24 L430.55,1074.46 L430.87,1072.69 L431.18,1070.92 L431.50,1069.14 L431.82,1067.37 L432.14,1065.60 L432.46,1063.82 L432.78,1062.05 L433.11,1060.28 L433.43,1058.51 L433.76,1056.74 L434.09,1054.97 L434.42,1053.20 L434.76,1051.43 L435.10,1049.66 L435.43,1047.89 L435.77,1046.12 L436.12,1044.36 L436.46,1042.59 L436.81,1040.83 L437.16,1039.06 L437.51,1037.30 L437.86,1035.53 L438.22,1033.77 L438.57,1032.01 L438.93,1030.24 L439.30,1028.48 L439.66,1026.72 L440.03,1024.96 L440.40,1023.20 L440.77,1021.45 L441.14,1019.69 L441.52,1017.93 L441.90,1016.18 L442.28,1014.42 L442.66,1012.67 L443.05,1010.91 L443.44,1009.16 L443.83,1007.41 L444.22,1005.66 L444.62,1003.91 L445.02,1002.16 L445.42,1000.41 L445.83,998.66 L446.23,996.92 L446.64,995.17 L447.06,993.43 L447.47,991.68 L447.89,989.94 L448.31,988.20 L448.74,986.46 L449.16,984.72 L449.59,982.98 L450.03,981.24 L450.46,979.50 L450.90,977.77 L451.35,976.03 L451.79,974.30 L452.24,972.57 L452.69,970.84 L453.15,969.10 L453.60,967.38 L454.07,965.65 L454.53,963.92 L455.00,962.19 L455.47,960.47 L455.94,958.75 L456.42,957.02 L456.90,955.30 L457.39,953.58 L457.87,951.87 L458.37,950.15 L458.86,948.43 L459.36,946.72 L459.86,945.00 L460.37,943.29 L460.87,941.58 L461.39,939.87 L461.90,938.16 L462.42,936.46 L462.95,934.75 L463.47,933.05 L464.00,931.34 L464.54,929.64 L465.08,927.94 L465.62,926.24 L466.17,924.55 L466.72,922.85 L467.27,921.15 L467.83,919.46 L468.39,917.77 L468.96,916.08 L469.53,914.39 L470.10,912.71 L470.68,911.02 L471.26,909.34 L471.84,907.65 L472.43,905.97 L473.03,904.29 L473.63,902.62 L474.23,900.94 L474.84,899.27 L475.45,897.59 L476.06,895.92 L476.68,894.25 L477.31,892.58 L477.93,890.92 L478.57,889.25 L479.20,887.59 L479.85,885.93 L480.49,884.27 L481.14,882.61 L481.80,880.96 L482.46,879.30 L483.12,877.65 L483.79,876.00 L484.46,874.35 L485.14,872.71 L485.82,871.06 L486.51,869.42 L487.20,867.78 L487.90,866.14 L488.60,864.50 L489.31,862.86 L490.02,861.23 L490.73,859.60 L491.46,857.97 L492.18,856.34 L492.91,854.71 L493.65,853.09 L494.39,851.47 L495.13,849.84 L495.88,848.23 L496.64,846.61 L497.40,845.00 L498.17,843.38 L498.94,841.77 L499.71,840.17 L500.50,838.56 L501.28,836.95 L502.07,835.35 L502.87,833.75 L503.67,832.16 L504.48,830.56 L505.30,828.97 L506.11,827.37 L506.94,825.79 L507.77,824.20 L508.60,822.61 L509.44,821.03 L510.29,819.45 L511.14,817.87 L512.00,816.30 L512.86,814.72 L513.73,813.15 L514.60,811.58 L515.48,810.02 L516.36,808.45 L517.25,806.89 L518.15,805.33 L519.05,803.77 L519.96,802.22 L520.88,800.66 L521.79,799.11 L522.72,797.56 L523.65,796.02 L524.59,794.48 L525.53,792.94 L526.48,791.41 L527.44,789.87 L528.40,788.35 L529.37,786.82 L530.35,785.30 L531.33,783.79 L532.32,782.28 L533.31,780.77 L534.32,779.27 L535.32,777.77 L536.34,776.28 L537.36,774.79 L538.39,773.31 L539.43,771.83 L540.47,770.36 L541.52,768.90 L542.58,767.44 L543.65,765.98 L544.72,764.54 L545.80,763.10 L546.88,761.66 L547.98,760.24 L549.08,758.82 L550.19,757.40 L551.31,756.00 L552.43,754.60 L553.57,753.21 L554.71,751.82 L555.86,750.45 L557.02,749.08 L558.18,747.72 L559.35,746.37 L560.54,745.03 L561.73,743.69 L562.92,742.37 L564.13,741.05 L565.34,739.75 L566.57,738.45 L567.80,737.16 L569.04,735.88 L570.29,734.61 L571.54,733.35 L572.81,732.10 L574.08,730.85 L575.36,729.62 L576.65,728.40 L577.95,727.18 L579.25,725.97 L580.56,724.78 L581.88,723.59 L583.21,722.41 L584.55,721.24 L585.89,720.08 L587.24,718.93 L588.59,717.79 L589.96,716.65 L591.33,715.53 L592.71,714.42 L594.10,713.31 L595.49,712.21 L596.89,711.12 L598.29,710.05 L599.71,708.98 L601.13,707.92 L602.56,706.86 L603.99,705.82 L605.43,704.79 L606.88,703.76 L608.33,702.75 L609.79,701.74 L611.25,700.74 L612.73,699.75 L614.20,698.77 L615.69,697.80 L617.18,696.84 L618.68,695.89 L620.18,694.94 L621.69,694.01 L623.20,693.08 L624.72,692.17 L626.24,691.26 L627.77,690.36 L629.31,689.47 L630.85,688.59 L632.40,687.71 L633.95,686.85 L635.51,685.99 L637.07,685.15 L638.64,684.31 L640.21,683.48 L641.79,682.66 L643.37,681.85 L644.96,681.05 L646.56,680.26 L648.15,679.47 L649.75,678.70 L651.36,677.93 L652.97,677.17 L654.59,676.42 L656.21,675.68 L657.83,674.95 L659.46,674.23 L661.09,673.51 L662.73,672.81 L664.37,672.11 L666.02,671.42 L667.67,670.74 L669.32,670.07 L670.98,669.41 L672.64,668.76 L674.30,668.11 L675.97,667.48 L677.64,666.85 L679.32,666.23 L680.99,665.62 L682.68,665.02 L684.36,664.43 L686.05,663.84 L687.74,663.26 L689.43,662.69 L691.13,662.13 L692.83,661.57 L694.53,661.02 L696.24,660.47 L697.94,659.93 L699.65,659.40 L701.36,658.87 L703.08,658.35 L704.79,657.83 L706.51,657.31 L708.23,656.80 L709.95,656.29 L711.67,655.79 L713.39,655.29 L715.12,654.79 L716.84,654.29 L718.57,653.80 L720.30,653.30 L722.03,652.81 L723.76,652.32 L725.49,651.84 L727.22,651.35 L728.95,650.86 L730.68,650.37 L732.42,649.89 L734.15,649.40 L735.88,648.91 L737.61,648.42 L739.34,647.93 L741.08,647.44 L742.81,646.94 L744.54,646.45 L746.27,645.95 L748.00,645.45 L749.73,644.94 L751.46,644.43 L753.18,643.92 L754.91,643.40 L756.63,642.88 L758.36,642.36 L760.08,641.83 L761.80,641.29 L763.52,640.75 L765.24,640.21 L766.95,639.65 L768.66,639.10 L770.37,638.53 L772.08,637.96 L773.79,637.38 L775.50,636.79 L777.20,636.20 L778.90,635.61 L780.60,635.01 L782.30,634.40 L784.00,633.79 L785.69,633.17 L787.38,632.55 L789.08,631.93 L790.77,631.30 L792.46,630.67 L794.14,630.03 L795.83,629.40 L797.52,628.76 L799.20,628.11 L800.89,627.47 L802.57,626.82 L804.25,626.18 L805.94,625.53 L807.62,624.88 L809.30,624.23 L810.98,623.58 L812.66,622.93 L814.34,622.28 L816.02,621.63 L817.70,620.98 L819.38,620.33 L821.06,619.68 L822.74,619.04 L824.42,618.39 L826.10,617.75 L827.78,617.11 L829.46,616.48 L831.14,615.84 L832.82,615.21 L834.50,614.59 L836.19,613.97 L837.87,613.35 L839.55,612.73 L841.24,612.12 L842.92,611.52 L844.61,610.92 L846.30,610.33 L847.99,609.74 L849.68,609.15 L851.37,608.58 L853.06,608.01 L854.76,607.45 L856.45,606.89 L858.15,606.34 L859.85,605.80 L861.55,605.27 L863.25,604.75 L864.95,604.23 L866.66,603.72 L868.37,603.22 L870.08,602.73 L871.79,602.24 L873.50,601.76 L875.21,601.30 L876.93,600.83 L878.65,600.38 L880.37,599.93 L882.09,599.49 L883.81,599.06 L885.53,598.63 L887.26,598.21 L888.98,597.80 L890.71,597.40 L892.44,597.00 L894.17,596.61 L895.91,596.22 L897.64,595.84 L899.38,595.47 L901.11,595.11 L902.85,594.75 L904.59,594.39 L906.33,594.05 L908.07,593.71 L909.82,593.37 L911.56,593.05 L913.31,592.72 L915.05,592.41 L916.80,592.10 L918.55,591.79 L920.30,591.49 L922.06,591.20 L923.81,590.91 L925.56,590.63 L927.32,590.35 L929.08,590.08 L930.84,589.81 L932.59,589.55 L934.36,589.29 L936.12,589.04 L937.88,588.79 L939.64,588.55 L941.41,588.31 L943.17,588.08 L944.94,587.85 L946.71,587.63 L948.48,587.41 L950.25,587.19 L952.02,586.98 L953.79,586.78 L955.56,586.58 L957.33,586.38 L959.11,586.18 L960.88,585.99 L962.66,585.81 L964.43,585.62 L966.21,585.44 L967.99,585.27 L969.77,585.10 L971.55,584.93 L973.33,584.76 L975.11,584.60 L976.89,584.44 L978.68,584.29 L980.46,584.13 L982.24,583.98 L984.03,583.84 L985.81,583.69 L987.60,583.55 L989.39,583.41 L991.17,583.28 L992.96,583.15 L994.75,583.01 L996.54,582.89 L998.33,582.76 L1000.12,582.64 L1001.91,582.52 L1003.70,582.40 L1005.49,582.28 L1007.28,582.16 L1009.08,582.05 L1010.87,581.94 L1012.66,581.83 L1014.46,581.72 L1016.25,581.61 L1018.04,581.51 L1019.84,581.40 L1021.63,581.30 L1023.43,581.20 L1025.23,581.10 L1027.02,581.00 L1028.82,580.90 L1030.61,580.81 L1032.41,580.71 L1034.21,580.62 L1036.01,580.52 L1037.80,580.43 L1039.60,580.34 L1041.40,580.24 L1043.20,580.15 L1044.99,580.06 L1046.79,579.97 L1048.59,579.88 L1050.39,579.79 L1052.19,579.70 L1053.98,579.61 L1055.78,579.51 L1057.58,579.42 L1059.38,579.33 L1061.18,579.24 L1062.98,579.15 L1064.77,579.06 L1066.57,578.96 L1068.37,578.87 L1070.17,578.78 L1071.97,578.68 L1073.77,578.59 L1075.56,578.49 L1077.36,578.39 L1079.16,578.29 L1080.96,578.19 L1082.75,578.09 L1084.55,577.99 L1086.35,577.89 L1088.14,577.78 L1089.94,577.68 L1091.73,577.57 L1093.53,577.46 L1095.32,577.35 L1097.12,577.23 L1098.91,577.12 L1100.71,577.00 L1102.50,576.89 L1104.30,576.77 L1106.09,576.65 L1107.88,576.53 L1109.68,576.41 L1111.47,576.28 L1113.26,576.16 L1115.05,576.03 L1116.84,575.91 L1118.64,575.78 L1120.43,575.65 L1122.22,575.52 L1124.01,575.39 L1125.80,575.26 L1127.59,575.13 L1129.38,575.00 L1131.17,574.87 L1132.96,574.73 L1134.75,574.60 L1136.54,574.47 L1138.33,574.33 L1140.12,574.20 L1141.91,574.06 L1143.70,573.93 L1145.49,573.80 L1147.27,573.66 L1149.06,573.53 L1150.85,573.39 L1152.64,573.26 L1154.43,573.12 L1156.21,572.99 L1158.00,572.85 L1159.79,572.72 L1161.57,572.58 L1163.36,572.45 L1165.15,572.32 L1166.93,572.19 L1168.72,572.05 L1170.51,571.92 L1172.29,571.79 L1174.08,571.66 L1175.86,571.53 L1177.65,571.40 L1179.44,571.28 L1181.22,571.15 L1183.01,571.02 L1184.79,570.90 L1186.58,570.78 L1188.36,570.65 L1190.15,570.53 L1191.93,570.41 L1193.72,570.29 L1195.50,570.17 L1197.29,570.06 L1199.07,569.94 L1200.86,569.83 L1202.64,569.72 L1204.43,569.61 L1206.21,569.50 L1207.99,569.39 L1209.78,569.29 L1211.56,569.18 L1213.35,569.08 L1215.13,568.98 L1216.91,568.88 L1218.70,568.79 L1220.48,568.69 L1222.27,568.60 L1224.05,568.51 L1225.83,568.42 L1227.62,568.34 L1229.40,568.26 L1231.19,568.17 L1232.97,568.10 L1234.75,568.02 L1236.54,567.95 L1238.32,567.88 L1240.11,567.81 L1241.89,567.74 L1243.67,567.68 L1245.46,567.62 L1247.24,567.56 L1249.03,567.51 L1250.81,567.46 L1252.59,567.41 L1254.38,567.36 L1256.16,567.32 L1257.95,567.28 L1259.73,567.25 L1261.52,567.21 L1263.30,567.18 L1265.08,567.16 L1266.87,567.14 L1268.65,567.12 L1270.44,567.10 L1272.22,567.09 L1274.01,567.08 L1275.79,567.07 L1277.58,567.07 L1279.36,567.08 L1281.15,567.08 L1282.93,567.09 L1284.72,567.11 L1286.50,567.12 L1288.29,567.15 L1290.08,567.17 L1291.86,567.20 L1293.65,567.24 L1295.43,567.27 L1297.22,567.32 L1299.01,567.36 L1300.79,567.42 L1302.58,567.47 L1304.37,567.53 L1306.15,567.60 L1307.94,567.67 L1309.73,567.74 L1311.52,567.82 L1313.30,567.90 L1315.09,567.99 L1316.88,568.08 L1318.67,568.17 L1320.46,568.27 L1322.24,568.37 L1324.03,568.47 L1325.82,568.58 L1327.61,568.69 L1329.40,568.81 L1331.19,568.92 L1332.98,569.04 L1334.77,569.16 L1336.55,569.29 L1338.34,569.42 L1340.13,569.54 L1341.92,569.68 L1343.71,569.81 L1345.50,569.94 L1347.29,570.08 L1349.08,570.22 L1350.87,570.36 L1352.66,570.50 L1354.45,570.64 L1356.24,570.78 L1358.03,570.93 L1359.82,571.07 L1361.61,571.22 L1363.40,571.37 L1365.19,571.51 L1366.98,571.66 L1368.77,571.81 L1370.56,571.95 L1372.35,572.10 L1374.14,572.25 L1375.93,572.39 L1377.72,572.54 L1379.51,572.68 L1381.30,572.83 L1383.09,572.97 L1384.88,573.11 L1386.67,573.25 L1388.46,573.39 L1390.25,573.53 L1392.04,573.67 L1393.83,573.81 L1395.62,573.94 L1397.41,574.07 L1399.20,574.20 L1400.99,574.33 L1402.78,574.45 L1404.57,574.58 L1406.36,574.70 L1408.15,574.81 L1409.94,574.93 L1411.73,575.04 L1413.52,575.15 L1415.31,575.25 L1417.10,575.35 L1418.89,575.45 L1420.68,575.55 L1422.47,575.64 L1424.26,575.73 L1426.05,575.81 L1427.84,575.89 L1429.63,575.96 L1431.41,576.04 L1433.20,576.10 L1434.99,576.17 L1436.78,576.23 L1438.57,576.29 L1440.36,576.34 L1442.15,576.39 L1443.93,576.44 L1445.72,576.48 L1447.51,576.52 L1449.30,576.56 L1451.09,576.59 L1452.87,576.62 L1454.66,576.65 L1456.45,576.68 L1458.24,576.70 L1460.03,576.72 L1461.82,576.73 L1463.60,576.74 L1465.39,576.76 L1467.18,576.76 L1468.97,576.77 L1470.76,576.77 L1472.55,576.77 L1474.33,576.77 L1476.12,576.76 L1477.91,576.75 L1479.70,576.74 L1481.49,576.73 L1483.28,576.72 L1485.07,576.70 L1486.85,576.68 L1488.64,576.66 L1490.43,576.64 L1492.22,576.61 L1494.01,576.59 L1495.80,576.56 L1497.59,576.53 L1499.38,576.49 L1501.17,576.46 L1502.96,576.42 L1504.75,576.39 L1506.54,576.35 L1508.33,576.31 L1510.12,576.27 L1511.91,576.22 L1513.70,576.18 L1515.49,576.13 L1517.28,576.08 L1519.07,576.04 L1520.86,575.99 L1522.65,575.94 L1524.45,575.88 L1526.24,575.83 L1528.03,575.78 L1529.82,575.72 L1531.61,575.67 L1533.41,575.61 L1535.20,575.56 L1536.99,575.50 L1538.79,575.44 L1540.58,575.38 L1542.37,575.32 L1544.17,575.26 L1545.96,575.20 L1547.75,575.14 L1549.55,575.08 L1551.34,575.02 L1553.14,574.96 L1554.93,574.90 L1556.73,574.84 L1558.53,574.78 L1560.32,574.72 L1562.12,574.66 L1563.92,574.59 L1565.71,574.53" stroke="#1a5fd0"/><path d="M403.07,1279.93 L403.38,1278.20 L403.70,1276.46 L404.01,1274.72 L404.32,1272.98 L404.63,1271.25 L404.94,1269.51 L405.25,1267.77 L405.56,1266.03 L405.87,1264.29 L406.18,1262.55 L406.48,1260.82 L406.79,1259.08 L407.09,1257.34 L407.40,1255.60 L407.70,1253.86 L408.00,1252.12 L408.30,1250.38 L408.60,1248.64 L408.90,1246.90 L409.20,1245.16 L409.50,1243.42 L409.80,1241.68 L410.09,1239.94 L410.39,1238.20 L410.69,1236.46 L410.98,1234.72 L411.28,1232.98 L411.57,1231.24 L411.87,1229.50 L412.16,1227.76 L412.45,1226.02 L412.74,1224.28 L413.04,1222.54 L413.33,1220.80 L413.62,1219.06 L413.91,1217.32 L414.20,1215.58 L414.49,1213.83 L414.78,1212.09 L415.07,1210.35 L415.36,1208.61 L415.65,1206.87 L415.94,1205.13 L416.23,1203.39 L416.52,1201.65 L416.80,1199.91 L417.09,1198.16 L417.38,1196.42 L417.67,1194.68 L417.96,1192.94 L418.24,1191.20 L418.53,1189.46 L418.82,1187.72 L419.11,1185.98 L419.40,1184.24 L419.68,1182.49 L419.97,1180.75 L420.26,1179.01 L420.55,1177.27 L420.84,1175.53 L421.12,1173.79 L421.41,1172.05 L421.70,1170.31 L421.99,1168.57 L422.28,1166.83 L422.57,1165.08 L422.86,1163.34 L423.15,1161.60 L423.44,1159.86 L423.73,1158.12 L424.02,1156.38 L424.31,1154.64 L424.60,1152.90 L424.89,1151.16 L425.19,1149.42 L425.48,1147.68 L425.77,1145.94 L426.07,1144.20 L426.36,1142.46 L426.66,1140.72 L426.95,1138.98 L427.25,1137.24 L427.54,1135.50 L427.84,1133.76 L428.14,1132.02 L428.44,1130.28 L428.74,1128.54 L429.03,1126.80 L429.34,1125.07 L429.64,1123.33 L429.94,1121.59 L430.24,1119.85 L430.54,1118.11 L430.85,1116.37 L431.15,1114.63 L431.46,1112.90 L431.76,1111.16 L432.07,1109.42 L432.38,1107.68 L432.69,1105.95 L433.00,1104.21 L433.31,1102.47 L433.62,1100.74 L433.94,1099.00 L434.25,1097.26 L434.56,1095.53 L434.88,1093.79 L435.20,1092.05 L435.52,1090.32 L435.84,1088.58 L436.16,1086.85 L436.48,1085.11 L436.80,1083.38 L437.12,1081.64 L437.45,1079.91 L437.78,1078.17 L438.10,1076.44 L438.43,1074.70 L438.76,1072.97 L439.10,1071.24 L439.43,1069.50 L439.76,1067.77 L440.10,1066.04 L440.43,1064.30 L440.77,1062.57 L441.11,1060.84 L441.45,1059.11 L441.80,1057.38 L442.14,1055.64 L442.49,1053.91 L442.83,1052.18 L443.18,1050.45 L443.53,1048.72 L443.89,1046.99 L444.24,1045.26 L444.59,1043.53 L444.95,1041.80 L445.31,1040.07 L445.67,1038.34 L446.03,1036.61 L446.40,1034.89 L446.76,1033.16 L447.13,1031.43 L447.50,1029.70 L447.87,1027.98 L448.24,1026.25 L448.62,1024.52 L448.99,1022.80 L449.37,1021.07 L449.75,1019.34 L450.13,1017.62 L450.52,1015.89 L450.90,1014.17 L451.29,1012.44 L451.68,1010.72 L452.07,1009.00 L452.47,1007.27 L452.86,1005.55 L453.26,1003.83 L453.66,1002.11 L454.06,1000.38 L454.47,998.66 L454.87,996.94 L455.28,995.22 L455.69,993.50 L456.11,991.78 L456.52,990.06 L456.94,988.34 L457.36,986.62 L457.78,984.90 L458.21,983.18 L458.64,981.47 L459.06,979.75 L459.50,978.03 L459.93,976.31 L460.37,974.60 L460.81,972.88 L461.25,971.17 L461.70,969.45 L462.14,967.74 L462.60,966.03 L463.05,964.32 L463.51,962.61 L463.97,960.90 L464.43,959.19 L464.90,957.48 L465.37,955.77 L465.84,954.07 L466.32,952.36 L466.80,950.66 L467.28,948.96 L467.77,947.26 L468.26,945.56 L468.76,943.86 L469.26,942.16 L469.76,940.47 L470.27,938.77 L470.78,937.08 L471.29,935.39 L471.81,933.70 L472.33,932.01 L472.86,930.33 L473.39,928.64 L473.93,926.96 L474.47,925.28 L475.02,923.60 L475.57,921.92 L476.12,920.25 L476.68,918.58 L477.24,916.90 L477.81,915.24 L478.39,913.57 L478.97,911.90 L479.55,910.24 L480.14,908.58 L480.73,906.92 L481.33,905.27 L481.94,903.62 L482.55,901.96 L483.16,900.32 L483.78,898.67 L484.41,897.03 L485.04,895.39 L485.68,893.75 L486.32,892.11 L486.97,890.48 L487.62,888.85 L488.29,887.22 L488.95,885.60 L489.63,883.98 L490.30,882.36 L490.99,880.74 L491.68,879.13 L492.38,877.52 L493.08,875.92 L493.79,874.31 L494.51,872.71 L495.23,871.12 L495.96,869.52 L496.70,867.93 L497.44,866.35 L498.19,864.76 L498.95,863.18 L499.72,861.61 L500.49,860.03 L501.27,858.47 L502.05,856.90 L502.84,855.34 L503.64,853.78 L504.45,852.23 L505.27,850.67 L506.09,849.13 L506.92,847.58 L507.75,846.05 L508.60,844.51 L509.45,842.98 L510.31,841.45 L511.18,839.93 L512.06,838.41 L512.94,836.90 L513.83,835.38 L514.73,833.88 L515.64,832.38 L516.56,830.88 L517.48,829.39 L518.41,827.90 L519.35,826.41 L520.30,824.93 L521.26,823.46 L522.23,821.99 L523.20,820.52 L524.18,819.06 L525.17,817.60 L526.16,816.14 L527.17,814.69 L528.18,813.25 L529.19,811.80 L530.22,810.36 L531.25,808.93 L532.28,807.50 L533.33,806.07 L534.37,804.64 L535.43,803.22 L536.49,801.80 L537.56,800.39 L538.63,798.98 L539.71,797.57 L540.79,796.17 L541.88,794.77 L542.97,793.37 L544.07,791.98 L545.17,790.58 L546.28,789.19 L547.39,787.81 L548.50,786.43 L549.62,785.05 L550.75,783.67 L551.87,782.29 L553.00,780.92 L554.14,779.55 L555.28,778.18 L556.42,776.82 L557.56,775.46 L558.71,774.10 L559.86,772.74 L561.01,771.38 L562.17,770.03 L563.32,768.68 L564.48,767.33 L565.65,765.98 L566.81,764.64 L567.97,763.29 L569.14,761.95 L570.31,760.61 L571.48,759.27 L572.65,757.94 L573.83,756.60 L575.01,755.28 L576.19,753.95 L577.37,752.63 L578.56,751.32 L579.75,750.01 L580.95,748.70 L582.15,747.40 L583.36,746.11 L584.57,744.83 L585.79,743.55 L587.01,742.28 L588.24,741.02 L589.48,739.77 L590.72,738.53 L591.98,737.30 L593.24,736.08 L594.51,734.87 L595.78,733.67 L597.07,732.49 L598.37,731.31 L599.67,730.15 L600.99,729.00 L602.31,727.86 L603.65,726.74 L605.00,725.64 L606.35,724.54 L607.72,723.47 L609.11,722.41 L610.50,721.36 L611.91,720.34 L613.33,719.32 L614.76,718.33 L616.20,717.35 L617.65,716.38 L619.11,715.43 L620.58,714.49 L622.07,713.56 L623.56,712.65 L625.06,711.75 L626.57,710.87 L628.09,709.99 L629.62,709.13 L631.15,708.28 L632.69,707.44 L634.24,706.61 L635.79,705.79 L637.36,704.98 L638.92,704.18 L640.50,703.39 L642.08,702.61 L643.66,701.83 L645.25,701.07 L646.84,700.31 L648.44,699.56 L650.04,698.81 L651.64,698.08 L653.25,697.34 L654.85,696.62 L656.46,695.90 L658.08,695.18 L659.69,694.47 L661.31,693.77 L662.93,693.07 L664.55,692.37 L666.17,691.68 L667.79,690.99 L669.42,690.31 L671.05,689.63 L672.68,688.96 L674.31,688.30 L675.94,687.63 L677.58,686.98 L679.21,686.32 L680.85,685.67 L682.49,685.03 L684.13,684.39 L685.78,683.75 L687.42,683.12 L689.07,682.49 L690.72,681.87 L692.37,681.25 L694.02,680.64 L695.67,680.03 L697.33,679.42 L698.98,678.82 L700.64,678.22 L702.30,677.63 L703.96,677.04 L705.62,676.45 L707.29,675.87 L708.95,675.29 L710.62,674.71 L712.29,674.14 L713.96,673.57 L715.63,673.01 L717.30,672.45 L718.97,671.89 L720.65,671.33 L722.32,670.78 L724.00,670.24 L725.68,669.69 L727.36,669.15 L729.04,668.62 L730.72,668.08 L732.40,667.55 L734.09,667.02 L735.77,666.50 L737.46,665.98 L739.15,665.46 L740.84,664.94 L742.53,664.43 L744.22,663.92 L745.91,663.41 L747.60,662.91 L749.30,662.41 L750.99,661.91 L752.69,661.41 L754.38,660.92 L756.08,660.43 L757.78,659.94 L759.48,659.45 L761.18,658.97 L762.88,658.49 L764.58,658.01 L766.29,657.53 L767.99,657.06 L769.69,656.59 L771.40,656.12 L773.11,655.65 L774.81,655.19 L776.52,654.72 L778.23,654.26 L779.94,653.80 L781.65,653.35 L783.36,652.89 L785.07,652.44 L786.78,651.98 L788.49,651.53 L790.20,651.09 L791.92,650.64 L793.63,650.19 L795.34,649.75 L797.06,649.31 L798.77,648.87 L800.49,648.43 L802.21,647.99 L803.92,647.56 L805.64,647.12 L807.36,646.69 L809.08,646.26 L810.79,645.83 L812.51,645.40 L814.23,644.97 L815.95,644.54 L817.67,644.11 L819.39,643.69 L821.11,643.26 L822.83,642.84 L824.55,642.42 L826.27,642.00 L827.99,641.58 L829.71,641.16 L831.43,640.74 L833.15,640.32 L834.87,639.90 L836.60,639.48 L838.32,639.06 L840.04,638.65 L841.76,638.23 L843.48,637.82 L845.20,637.40 L846.92,636.99 L848.65,636.57 L850.37,636.16 L852.09,635.74 L853.81,635.33 L855.53,634.91 L857.25,634.50 L858.97,634.09 L860.69,633.67 L862.41,633.26 L864.13,632.84 L865.85,632.43 L867.57,632.01 L869.29,631.60 L871.01,631.18 L872.73,630.77 L874.45,630.35 L876.17,629.94 L877.89,629.52 L879.61,629.10 L881.32,628.69 L883.04,628.27 L884.76,627.85 L886.47,627.43 L888.19,627.01 L889.91,626.59 L891.62,626.17 L893.33,625.75 L895.05,625.32 L896.76,624.90 L898.48,624.48 L900.19,624.05 L901.90,623.63 L903.61,623.20 L905.33,622.78 L907.04,622.35 L908.75,621.93 L910.46,621.51 L912.17,621.08 L913.88,620.66 L915.59,620.24 L917.30,619.81 L919.01,619.39 L920.73,618.97 L922.44,618.55 L924.15,618.14 L925.86,617.72 L927.57,617.30 L929.28,616.89 L930.99,616.47 L932.70,616.06 L934.41,615.65 L936.12,615.24 L937.84,614.84 L939.55,614.43 L941.26,614.03 L942.97,613.63 L944.69,613.23 L946.40,612.83 L948.11,612.44 L949.83,612.05 L951.54,611.66 L953.26,611.27 L954.97,610.89 L956.69,610.51 L958.40,610.13 L960.12,609.76 L961.84,609.38 L963.56,609.02 L965.27,608.65 L966.99,608.29 L968.71,607.93 L970.44,607.58 L972.16,607.23 L973.88,606.88 L975.60,606.54 L977.33,606.20 L979.05,605.86 L980.78,605.53 L982.50,605.21 L984.23,604.88 L985.96,604.57 L987.69,604.25 L989.42,603.95 L991.15,603.64 L992.88,603.34 L994.62,603.05 L996.35,602.76 L998.09,602.48 L999.82,602.20 L1001.56,601.93 L1003.30,601.66 L1005.04,601.40 L1006.78,601.14 L1008.53,600.89 L1010.27,600.65 L1012.02,600.41 L1013.76,600.17 L1015.51,599.94 L1017.26,599.72 L1019.01,599.50 L1020.76,599.28 L1022.51,599.07 L1024.27,598.87 L1026.02,598.67 L1027.77,598.47 L1029.53,598.28 L1031.29,598.09 L1033.04,597.90 L1034.80,597.72 L1036.56,597.55 L1038.32,597.38 L1040.08,597.21 L1041.84,597.04 L1043.60,596.88 L1045.36,596.72 L1047.13,596.57 L1048.89,596.41 L1050.66,596.26 L1052.42,596.12 L1054.18,595.97 L1055.95,595.83 L1057.72,595.69 L1059.48,595.56 L1061.25,595.43 L1063.02,595.29 L1064.78,595.17 L1066.55,595.04 L1068.32,594.91 L1070.09,594.79 L1071.85,594.67 L1073.62,594.55 L1075.39,594.43 L1077.16,594.31 L1078.93,594.20 L1080.70,594.08 L1082.47,593.97 L1084.23,593.86 L1086.00,593.75 L1087.77,593.64 L1089.54,593.53 L1091.31,593.42 L1093.08,593.31 L1094.84,593.20 L1096.61,593.09 L1098.38,592.99 L1100.15,592.88 L1101.91,592.77 L1103.68,592.67 L1105.45,592.56 L1107.22,592.46 L1108.98,592.35 L1110.75,592.25 L1112.52,592.15 L1114.28,592.04 L1116.05,591.94 L1117.81,591.84 L1119.58,591.74 L1121.35,591.64 L1123.11,591.54 L1124.88,591.44 L1126.64,591.34 L1128.41,591.24 L1130.17,591.14 L1131.94,591.04 L1133.70,590.95 L1135.47,590.85 L1137.23,590.75 L1139.00,590.66 L1140.76,590.56 L1142.53,590.47 L1144.29,590.37 L1146.06,590.28 L1147.82,590.19 L1149.58,590.10 L1151.35,590.01 L1153.11,589.92 L1154.88,589.83 L1156.64,589.74 L1158.40,589.65 L1160.17,589.56 L1161.93,589.47 L1163.69,589.38 L1165.46,589.30 L1167.22,589.21 L1168.98,589.13 L1170.75,589.04 L1172.51,588.96 L1174.27,588.88 L1176.03,588.79 L1177.80,588.71 L1179.56,588.63 L1181.32,588.55 L1183.09,588.47 L1184.85,588.39 L1186.61,588.31 L1188.37,588.23 L1190.13,588.16 L1191.90,588.08 L1193.66,588.00 L1195.42,587.93 L1197.18,587.85 L1198.95,587.78 L1200.71,587.71 L1202.47,587.63 L1204.23,587.56 L1205.99,587.49 L1207.76,587.42 L1209.52,587.35 L1211.28,587.28 L1213.04,587.22 L1214.80,587.15 L1216.57,587.08 L1218.33,587.02 L1220.09,586.95 L1221.85,586.89 L1223.61,586.82 L1225.38,586.76 L1227.14,586.70 L1228.90,586.64 L1230.66,586.58 L1232.42,586.52 L1234.18,586.46 L1235.95,586.40 L1237.71,586.34 L1239.47,586.29 L1241.23,586.23 L1242.99,586.18 L1244.76,586.12 L1246.52,586.07 L1248.28,586.02 L1250.04,585.97 L1251.80,585.92 L1253.56,585.87 L1255.33,585.82 L1257.09,585.77 L1258.85,585.72 L1260.61,585.67 L1262.37,585.63 L1264.14,585.58 L1265.90,585.54 L1267.66,585.50 L1269.42,585.45 L1271.19,585.41 L1272.95,585.37 L1274.71,585.33 L1276.47,585.29 L1278.24,585.26 L1280.00,585.22 L1281.76,585.18 L1283.52,585.15 L1285.29,585.11 L1287.05,585.08 L1288.81,585.05 L1290.58,585.02 L1292.34,584.99 L1294.10,584.96 L1295.86,584.93 L1297.63,584.90 L1299.39,584.87 L1301.15,584.85 L1302.92,584.82 L1304.68,584.80 L1306.44,584.77 L1308.21,584.75 L1309.97,584.73 L1311.74,584.71 L1313.50,584.69 L1315.26,584.67 L1317.03,584.66 L1318.79,584.64 L1320.56,584.63 L1322.32,584.61 L1324.09,584.60 L1325.85,584.59 L1327.61,584.57 L1329.38,584.56 L1331.14,584.55 L1332.91,584.55 L1334.67,584.54 L1336.44,584.53 L1338.20,584.53 L1339.97,584.52 L1341.73,584.52 L1343.50,584.52 L1345.26,584.52 L1347.03,584.52 L1348.79,584.52 L1350.56,584.52 L1352.32,584.53 L1354.09,584.53 L1355.85,584.54 L1357.62,584.54 L1359.39,584.55 L1361.15,584.56 L1362.92,584.57 L1364.68,584.58 L1366.45,584.59 L1368.21,584.61 L1369.98,584.62 L1371.74,584.64 L1373.51,584.65 L1375.28,584.67 L1377.04,584.69 L1378.81,584.71 L1380.57,584.73 L1382.34,584.75 L1384.10,584.78 L1385.87,584.80 L1387.63,584.83 L1389.40,584.86 L1391.17,584.88 L1392.93,584.91 L1394.70,584.95 L1396.46,584.98 L1398.23,585.01 L1399.99,585.05 L1401.76,585.08 L1403.53,585.12 L1405.29,585.16 L1407.06,585.20 L1408.82,585.24 L1410.59,585.28 L1412.35,585.32 L1414.12,585.37 L1415.88,585.41 L1417.65,585.46 L1419.41,585.51 L1421.18,585.56 L1422.95,585.61 L1424.71,585.66 L1426.48,585.71 L1428.24,585.77 L1430.01,585.82 L1431.77,585.88 L1433.54,585.94 L1435.30,586.00 L1437.07,586.06 L1438.83,586.12 L1440.60,586.19 L1442.36,586.25 L1444.12,586.32 L1445.89,586.39 L1447.65,586.46 L1449.42,586.53 L1451.18,586.60 L1452.95,586.67 L1454.71,586.75 L1456.48,586.82 L1458.24,586.90 L1460.00,586.98 L1461.77,587.06 L1463.53,587.14 L1465.30,587.23 L1467.06,587.31 L1468.82,587.40 L1470.59,587.48 L1472.35,587.57 L1474.11,587.66 L1475.88,587.75 L1477.64,587.85 L1479.40,587.94 L1481.17,588.04 L1482.93,588.14 L1484.69,588.23 L1486.45,588.33 L1488.22,588.44 L1489.98,588.54 L1491.74,588.64 L1493.50,588.75 L1495.27,588.86 L1497.03,588.97 L1498.79,589.08 L1500.55,589.19 L1502.31,589.30 L1504.07,589.42 L1505.84,589.54 L1507.60,589.66 L1509.36,589.78 L1511.12,589.90 L1512.88,590.02 L1514.64,590.14 L1516.40,590.27 L1518.16,590.40 L1519.92,590.53 L1521.68,590.66 L1523.44,590.79 L1525.20,590.92 L1526.96,591.06 L1528.72,591.20 L1530.48,591.33 L1532.24,591.47 L1534.00,591.62 L1535.76,591.76 L1537.52,591.90 L1539.28,592.05 L1541.03,592.20 L1542.79,592.35 L1544.55,592.50 L1546.31,592.65 L1548.07,592.81 L1549.82,592.96 L1551.58,593.12 L1553.34,593.28 L1555.09,593.44 L1556.85,593.61 L1558.61,593.77 L1560.36,593.94 L1562.12,594.11 L1563.88,594.28 L1565.63,594.45" stroke="#2e9b5c"/><path d="M401.19,1279.92 L401.46,1278.17 L401.72,1276.42 L401.98,1274.66 L402.24,1272.91 L402.50,1271.16 L402.76,1269.40 L403.03,1267.65 L403.29,1265.89 L403.55,1264.14 L403.81,1262.38 L404.06,1260.63 L404.32,1258.87 L404.58,1257.11 L404.84,1255.36 L405.10,1253.60 L405.36,1251.85 L405.61,1250.09 L405.87,1248.33 L406.13,1246.57 L406.39,1244.82 L406.64,1243.06 L406.90,1241.30 L407.16,1239.54 L407.41,1237.78 L407.67,1236.02 L407.93,1234.27 L408.18,1232.51 L408.44,1230.75 L408.70,1228.99 L408.95,1227.23 L409.21,1225.47 L409.47,1223.71 L409.72,1221.95 L409.98,1220.19 L410.24,1218.43 L410.49,1216.67 L410.75,1214.91 L411.01,1213.15 L411.27,1211.39 L411.52,1209.63 L411.78,1207.87 L412.04,1206.11 L412.30,1204.34 L412.56,1202.58 L412.82,1200.82 L413.08,1199.06 L413.34,1197.30 L413.60,1195.54 L413.86,1193.78 L414.12,1192.02 L414.38,1190.25 L414.64,1188.49 L414.90,1186.73 L415.16,1184.97 L415.43,1183.21 L415.69,1181.45 L415.95,1179.69 L416.22,1177.92 L416.48,1176.16 L416.75,1174.40 L417.01,1172.64 L417.28,1170.88 L417.55,1169.12 L417.82,1167.36 L418.08,1165.60 L418.35,1163.83 L418.62,1162.07 L418.89,1160.31 L419.16,1158.55 L419.44,1156.79 L419.71,1155.03 L419.98,1153.27 L420.26,1151.51 L420.53,1149.75 L420.81,1147.99 L421.08,1146.23 L421.36,1144.47 L421.64,1142.71 L421.92,1140.95 L422.20,1139.19 L422.48,1137.43 L422.76,1135.67 L423.04,1133.91 L423.33,1132.15 L423.61,1130.39 L423.90,1128.63 L424.18,1126.87 L424.47,1125.11 L424.76,1123.35 L425.05,1121.59 L425.34,1119.84 L425.63,1118.08 L425.93,1116.32 L426.22,1114.56 L426.52,1112.80 L426.81,1111.05 L427.11,1109.29 L427.41,1107.53 L427.71,1105.78 L428.01,1104.02 L428.32,1102.26 L428.62,1100.51 L428.93,1098.75 L429.23,1097.00 L429.54,1095.24 L429.85,1093.49 L430.16,1091.73 L430.48,1089.98 L430.79,1088.23 L431.10,1086.47 L431.42,1084.72 L431.74,1082.97 L432.06,1081.21 L432.38,1079.46 L432.70,1077.71 L433.03,1075.96 L433.35,1074.21 L433.68,1072.45 L434.01,1070.70 L434.34,1068.95 L434.67,1067.20 L435.01,1065.45 L435.34,1063.70 L435.68,1061.96 L436.02,1060.21 L436.36,1058.46 L436.70,1056.71 L437.04,1054.96 L437.39,1053.22 L437.74,1051.47 L438.09,1049.72 L438.44,1047.98 L438.79,1046.23 L439.15,1044.49 L439.50,1042.74 L439.86,1041.00 L440.22,1039.26 L440.58,1037.51 L440.95,1035.77 L441.32,1034.03 L441.68,1032.29 L442.05,1030.54 L442.43,1028.80 L442.80,1027.06 L443.18,1025.32 L443.56,1023.58 L443.94,1021.84 L444.32,1020.11 L444.70,1018.37 L445.09,1016.63 L445.48,1014.89 L445.87,1013.16 L446.26,1011.42 L446.66,1009.69 L447.06,1007.95 L447.46,1006.22 L447.86,1004.48 L448.27,1002.75 L448.67,1001.02 L449.08,999.29 L449.49,997.56 L449.91,995.83 L450.32,994.09 L450.74,992.37 L451.16,990.64 L451.59,988.91 L452.01,987.18 L452.44,985.45 L452.87,983.73 L453.31,982.00 L453.74,980.28 L454.18,978.55 L454.62,976.83 L455.06,975.10 L455.51,973.38 L455.96,971.66 L456.41,969.94 L456.86,968.22 L457.32,966.50 L457.78,964.78 L458.24,963.06 L458.71,961.34 L459.17,959.62 L459.64,957.91 L460.12,956.19 L460.59,954.48 L461.07,952.76 L461.55,951.05 L462.04,949.33 L462.52,947.62 L463.01,945.91 L463.51,944.20 L464.00,942.49 L464.50,940.78 L465.00,939.07 L465.51,937.37 L466.01,935.66 L466.52,933.95 L467.04,932.25 L467.56,930.55 L468.08,928.84 L468.60,927.14 L469.13,925.44 L469.66,923.74 L470.19,922.05 L470.73,920.35 L471.28,918.65 L471.82,916.96 L472.37,915.27 L472.93,913.58 L473.49,911.89 L474.05,910.21 L474.62,908.52 L475.19,906.84 L475.76,905.16 L476.34,903.48 L476.93,901.80 L477.52,900.13 L478.11,898.45 L478.71,896.78 L479.31,895.11 L479.92,893.45 L480.53,891.78 L481.15,890.12 L481.77,888.46 L482.40,886.80 L483.03,885.15 L483.67,883.50 L484.32,881.85 L484.96,880.20 L485.62,878.56 L486.28,876.92 L486.95,875.28 L487.62,873.64 L488.29,872.01 L488.98,870.38 L489.67,868.75 L490.36,867.13 L491.06,865.51 L491.77,863.89 L492.48,862.28 L493.20,860.67 L493.92,859.06 L494.66,857.46 L495.39,855.86 L496.14,854.26 L496.89,852.67 L497.65,851.08 L498.41,849.49 L499.18,847.91 L499.96,846.33 L500.75,844.75 L501.54,843.18 L502.34,841.62 L503.15,840.05 L503.96,838.49 L504.78,836.94 L505.61,835.39 L506.44,833.84 L507.29,832.30 L508.14,830.76 L508.99,829.23 L509.86,827.70 L510.73,826.17 L511.61,824.65 L512.50,823.14 L513.40,821.62 L514.30,820.12 L515.21,818.61 L516.13,817.11 L517.05,815.62 L517.98,814.12 L518.92,812.63 L519.86,811.15 L520.81,809.67 L521.77,808.19 L522.73,806.72 L523.70,805.25 L524.67,803.78 L525.65,802.31 L526.64,800.85 L527.63,799.39 L528.63,797.94 L529.63,796.49 L530.64,795.04 L531.65,793.59 L532.67,792.15 L533.70,790.71 L534.73,789.28 L535.77,787.85 L536.81,786.42 L537.86,785.00 L538.92,783.58 L539.98,782.17 L541.05,780.76 L542.12,779.36 L543.20,777.96 L544.29,776.56 L545.39,775.17 L546.49,773.79 L547.60,772.41 L548.71,771.04 L549.84,769.67 L550.96,768.31 L552.10,766.95 L553.24,765.60 L554.39,764.26 L555.55,762.92 L556.72,761.59 L557.89,760.27 L559.07,758.95 L560.26,757.64 L561.45,756.34 L562.66,755.04 L563.87,753.75 L565.09,752.47 L566.31,751.19 L567.55,749.92 L568.79,748.66 L570.04,747.41 L571.29,746.16 L572.55,744.92 L573.82,743.69 L575.10,742.47 L576.39,741.25 L577.68,740.04 L578.98,738.84 L580.28,737.65 L581.60,736.46 L582.92,735.28 L584.24,734.11 L585.58,732.95 L586.92,731.80 L588.26,730.65 L589.61,729.51 L590.97,728.38 L592.34,727.25 L593.71,726.14 L595.09,725.03 L596.48,723.93 L597.87,722.84 L599.27,721.75 L600.67,720.68 L602.08,719.61 L603.49,718.55 L604.92,717.49 L606.34,716.45 L607.78,715.41 L609.21,714.38 L610.66,713.36 L612.11,712.34 L613.56,711.33 L615.02,710.33 L616.49,709.34 L617.96,708.35 L619.44,707.37 L620.92,706.40 L622.41,705.43 L623.90,704.48 L625.40,703.53 L626.90,702.58 L628.41,701.64 L629.92,700.71 L631.44,699.79 L632.96,698.88 L634.48,697.97 L636.01,697.06 L637.55,696.17 L639.09,695.28 L640.63,694.39 L642.18,693.52 L643.73,692.65 L645.29,691.78 L646.85,690.93 L648.41,690.07 L649.98,689.23 L651.56,688.39 L653.13,687.56 L654.71,686.73 L656.30,685.91 L657.88,685.10 L659.48,684.29 L661.07,683.49 L662.67,682.69 L664.27,681.90 L665.87,681.12 L667.48,680.34 L669.09,679.57 L670.71,678.80 L672.33,678.04 L673.95,677.28 L675.57,676.53 L677.20,675.79 L678.83,675.05 L680.46,674.31 L682.09,673.59 L683.73,672.86 L685.37,672.14 L687.01,671.43 L688.66,670.72 L690.31,670.02 L691.96,669.32 L693.61,668.63 L695.26,667.94 L696.92,667.26 L698.58,666.59 L700.24,665.91 L701.90,665.24 L703.56,664.58 L705.23,663.92 L706.90,663.27 L708.57,662.62 L710.24,661.98 L711.91,661.34 L713.59,660.70 L715.26,660.07 L716.94,659.44 L718.62,658.82 L720.30,658.20 L721.98,657.59 L723.66,656.98 L725.34,656.38 L727.02,655.77 L728.71,655.18 L730.40,654.58 L732.08,653.99 L733.77,653.41 L735.46,652.83 L737.14,652.25 L738.83,651.68 L740.52,651.11 L742.21,650.54 L743.90,649.98 L745.59,649.42 L747.28,648.87 L748.97,648.31 L750.66,647.77 L752.35,647.22 L754.05,646.68 L755.74,646.14 L757.43,645.61 L759.12,645.08 L760.81,644.55 L762.50,644.03 L764.19,643.51 L765.89,642.99 L767.58,642.48 L769.27,641.98 L770.97,641.48 L772.66,640.98 L774.36,640.49 L776.06,640.00 L777.76,639.52 L779.46,639.04 L781.16,638.57 L782.86,638.10 L784.57,637.64 L786.27,637.18 L787.98,636.73 L789.69,636.28 L791.40,635.84 L793.11,635.40 L794.82,634.97 L796.54,634.54 L798.25,634.12 L799.97,633.70 L801.69,633.28 L803.41,632.87 L805.13,632.46 L806.85,632.05 L808.57,631.64 L810.30,631.24 L812.02,630.83 L813.75,630.43 L815.47,630.03 L817.20,629.63 L818.93,629.23 L820.65,628.83 L822.38,628.43 L824.11,628.03 L825.84,627.63 L827.57,627.23 L829.30,626.82 L831.03,626.42 L832.76,626.01 L834.49,625.60 L836.23,625.19 L837.96,624.78 L839.69,624.36 L841.42,623.95 L843.15,623.53 L844.89,623.11 L846.62,622.69 L848.35,622.27 L850.09,621.85 L851.82,621.43 L853.56,621.00 L855.29,620.58 L857.02,620.16 L858.76,619.73 L860.49,619.31 L862.23,618.88 L863.97,618.46 L865.70,618.04 L867.44,617.61 L869.18,617.19 L870.91,616.77 L872.65,616.35 L874.39,615.93 L876.13,615.51 L877.87,615.10 L879.61,614.68 L881.35,614.27 L883.08,613.86 L884.83,613.45 L886.57,613.04 L888.31,612.64 L890.05,612.24 L891.79,611.84 L893.53,611.44 L895.28,611.05 L897.02,610.66 L898.76,610.27 L900.51,609.89 L902.25,609.51 L904.00,609.13 L905.74,608.76 L907.49,608.39 L909.23,608.02 L910.98,607.66 L912.73,607.30 L914.48,606.95 L916.22,606.60 L917.97,606.26 L919.72,605.92 L921.47,605.59 L923.22,605.26 L924.97,604.94 L926.73,604.62 L928.48,604.31 L930.23,604.01 L931.98,603.71 L933.74,603.41 L935.49,603.13 L937.25,602.84 L939.00,602.57 L940.76,602.30 L942.51,602.04 L944.27,601.79 L946.03,601.54 L947.79,601.30 L949.55,601.07 L951.31,600.84 L953.07,600.63 L954.83,600.42 L956.59,600.21 L958.35,600.02 L960.11,599.83 L961.87,599.64 L963.64,599.46 L965.40,599.29 L967.17,599.13 L968.93,598.97 L970.70,598.82 L972.46,598.67 L974.23,598.53 L976.00,598.40 L977.77,598.27 L979.53,598.15 L981.30,598.03 L983.07,597.92 L984.84,597.81 L986.61,597.71 L988.38,597.61 L990.15,597.52 L991.92,597.43 L993.69,597.35 L995.47,597.27 L997.24,597.19 L999.01,597.12 L1000.78,597.06 L1002.56,597.00 L1004.33,596.94 L1006.11,596.89 L1007.88,596.84 L1009.66,596.79 L1011.43,596.75 L1013.21,596.71 L1014.98,596.68 L1016.76,596.64 L1018.53,596.62 L1020.31,596.59 L1022.09,596.57 L1023.87,596.55 L1025.64,596.53 L1027.42,596.52 L1029.20,596.50 L1030.98,596.49 L1032.76,596.49 L1034.53,596.48 L1036.31,596.48 L1038.09,596.48 L1039.87,596.48 L1041.65,596.48 L1043.43,596.49 L1045.21,596.49 L1046.99,596.50 L1048.77,596.51 L1050.55,596.52 L1052.33,596.53 L1054.11,596.54 L1055.89,596.55 L1057.67,596.57 L1059.45,596.58 L1061.24,596.59 L1063.02,596.61 L1064.80,596.62 L1066.58,596.64 L1068.36,596.66 L1070.14,596.67 L1071.92,596.69 L1073.71,596.70 L1075.49,596.72 L1077.27,596.73 L1079.05,596.75 L1080.83,596.76 L1082.61,596.78 L1084.39,596.79 L1086.18,596.80 L1087.96,596.81 L1089.74,596.82 L1091.52,596.83 L1093.30,596.83 L1095.08,596.84 L1096.87,596.84 L1098.65,596.84 L1100.43,596.84 L1102.21,596.84 L1103.99,596.84 L1105.77,596.83 L1107.55,596.82 L1109.33,596.81 L1111.11,596.80 L1112.89,596.78 L1114.67,596.77 L1116.45,596.75 L1118.23,596.72 L1120.01,596.69 L1121.79,596.66 L1123.57,596.63 L1125.35,596.59 L1127.13,596.55 L1128.91,596.51 L1130.69,596.46 L1132.47,596.41 L1134.25,596.36 L1136.02,596.30 L1137.80,596.24 L1139.58,596.17 L1141.36,596.10 L1143.13,596.02 L1144.91,595.94 L1146.69,595.86 L1148.46,595.77 L1150.24,595.67 L1152.01,595.57 L1153.79,595.47 L1155.56,595.36 L1157.34,595.25 L1159.11,595.13 L1160.89,595.01 L1162.66,594.88 L1164.43,594.75 L1166.21,594.62 L1167.98,594.48 L1169.75,594.34 L1171.53,594.19 L1173.30,594.04 L1175.07,593.89 L1176.84,593.73 L1178.61,593.57 L1180.39,593.41 L1182.16,593.25 L1183.93,593.08 L1185.70,592.91 L1187.47,592.73 L1189.24,592.56 L1191.01,592.38 L1192.78,592.19 L1194.55,592.01 L1196.32,591.82 L1198.09,591.63 L1199.86,591.44 L1201.63,591.25 L1203.40,591.06 L1205.17,590.86 L1206.94,590.66 L1208.71,590.46 L1210.47,590.26 L1212.24,590.06 L1214.01,589.86 L1215.78,589.65 L1217.55,589.45 L1219.32,589.24 L1221.09,589.04 L1222.85,588.83 L1224.62,588.62 L1226.39,588.41 L1228.16,588.20 L1229.93,587.99 L1231.69,587.78 L1233.46,587.57 L1235.23,587.36 L1237.00,587.15 L1238.77,586.94 L1240.53,586.73 L1242.30,586.53 L1244.07,586.32 L1245.84,586.11 L1247.61,585.90 L1249.37,585.70 L1251.14,585.49 L1252.91,585.29 L1254.68,585.09 L1256.45,584.89 L1258.22,584.69 L1259.98,584.49 L1261.75,584.29 L1263.52,584.10 L1265.29,583.90 L1267.06,583.71 L1268.83,583.52 L1270.60,583.33 L1272.36,583.15 L1274.13,582.97 L1275.90,582.79 L1277.67,582.61 L1279.44,582.43 L1281.21,582.26 L1282.98,582.09 L1284.75,581.92 L1286.52,581.76 L1288.29,581.60 L1290.06,581.44 L1291.83,581.29 L1293.60,581.14 L1295.37,580.99 L1297.15,580.85 L1298.92,580.71 L1300.69,580.57 L1302.46,580.44 L1304.23,580.31 L1306.00,580.19 L1307.78,580.07 L1309.55,579.95 L1311.32,579.84 L1313.09,579.74 L1314.87,579.63 L1316.64,579.53 L1318.42,579.44 L1320.19,579.35 L1321.96,579.26 L1323.74,579.18 L1325.51,579.10 L1327.29,579.02 L1329.06,578.95 L1330.84,578.88 L1332.61,578.82 L1334.39,578.76 L1336.16,578.70 L1337.94,578.64 L1339.71,578.59 L1341.49,578.55 L1343.27,578.50 L1345.04,578.46 L1346.82,578.42 L1348.60,578.39 L1350.37,578.35 L1352.15,578.33 L1353.93,578.30 L1355.71,578.28 L1357.48,578.26 L1359.26,578.24 L1361.04,578.23 L1362.82,578.21 L1364.60,578.20 L1366.37,578.20 L1368.15,578.19 L1369.93,578.19 L1371.71,578.19 L1373.49,578.20 L1375.27,578.20 L1377.05,578.21 L1378.83,578.22 L1380.60,578.23 L1382.38,578.25 L1384.16,578.27 L1385.94,578.29 L1387.72,578.31 L1389.50,578.33 L1391.28,578.35 L1393.06,578.38 L1394.84,578.41 L1396.62,578.44 L1398.40,578.47 L1400.18,578.51 L1401.96,578.54 L1403.74,578.58 L1405.52,578.62 L1407.30,578.66 L1409.08,578.70 L1410.87,578.74 L1412.65,578.79 L1414.43,578.83 L1416.21,578.88 L1417.99,578.92 L1419.77,578.97 L1421.55,579.02 L1423.33,579.07 L1425.11,579.13 L1426.89,579.18 L1428.67,579.23 L1430.46,579.29 L1432.24,579.34 L1434.02,579.40 L1435.80,579.46 L1437.58,579.51 L1439.36,579.57 L1441.14,579.63 L1442.92,579.69 L1444.71,579.75 L1446.49,579.81 L1448.27,579.87 L1450.05,579.93 L1451.83,579.99 L1453.61,580.05 L1455.39,580.11 L1457.17,580.17 L1458.96,580.23 L1460.74,580.29 L1462.52,580.35 L1464.30,580.41 L1466.08,580.47 L1467.86,580.53 L1469.64,580.59 L1471.42,580.65 L1473.20,580.71 L1474.98,580.77 L1476.77,580.83 L1478.55,580.88 L1480.33,580.94 L1482.11,581.00 L1483.89,581.05 L1485.67,581.11 L1487.45,581.16 L1489.23,581.22 L1491.01,581.27 L1492.79,581.32 L1494.57,581.37 L1496.35,581.42 L1498.13,581.47 L1499.91,581.52 L1501.69,581.56 L1503.47,581.61 L1505.25,581.65 L1507.03,581.69 L1508.81,581.73 L1510.59,581.77 L1512.37,581.81 L1514.15,581.85 L1515.93,581.88 L1517.70,581.92 L1519.48,581.95 L1521.26,581.98 L1523.04,582.00 L1524.82,582.03 L1526.60,582.05 L1528.38,582.08 L1530.15,582.10 L1531.93,582.12 L1533.71,582.13 L1535.49,582.15 L1537.26,582.16 L1539.04,582.17 L1540.82,582.17 L1542.60,582.18 L1544.37,582.18 L1546.15,582.18 L1547.93,582.18 L1549.70,582.17 L1551.48,582.17 L1553.25,582.16 L1555.03,582.14 L1556.81,582.13 L1558.58,582.11 L1560.36,582.09 L1562.13,582.07 L1563.91,582.04 L1565.68,582.01" stroke="#a86ad8"/></g>
<rect x="265.2" y="90.5" width="1473.5" height="1186.3" fill="none" stroke="#000" stroke-width="4"/><line x1="525.3" y1="1276.8" x2="525.3" y2="1254.3" stroke="#000" stroke-width="4"/><line x1="785.5" y1="1276.8" x2="785.5" y2="1254.3" stroke="#000" stroke-width="4"/><line x1="1045.6" y1="1276.8" x2="1045.6" y2="1254.3" stroke="#000" stroke-width="4"/><line x1="1305.7" y1="1276.8" x2="1305.7" y2="1254.3" stroke="#000" stroke-width="4"/><line x1="1565.9" y1="1276.8" x2="1565.9" y2="1254.3" stroke="#000" stroke-width="4"/><line x1="395.3" y1="1276.8" x2="395.3" y2="1264.8" stroke="#000" stroke-width="4"/><line x1="655.4" y1="1276.8" x2="655.4" y2="1264.8" stroke="#000" stroke-width="4"/><line x1="915.5" y1="1276.8" x2="915.5" y2="1264.8" stroke="#000" stroke-width="4"/><line x1="1175.7" y1="1276.8" x2="1175.7" y2="1264.8" stroke="#000" stroke-width="4"/><line x1="1435.8" y1="1276.8" x2="1435.8" y2="1264.8" stroke="#000" stroke-width="4"/><line x1="1695.9" y1="1276.8" x2="1695.9" y2="1264.8" stroke="#000" stroke-width="4"/><line x1="265.2" y1="1013.4" x2="288.2" y2="1013.4" stroke="#000" stroke-width="4"/><line x1="265.2" y1="749.9" x2="288.2" y2="749.9" stroke="#000" stroke-width="4"/><line x1="265.2" y1="486.5" x2="288.2" y2="486.5" stroke="#000" stroke-width="4"/><line x1="265.2" y1="223.0" x2="288.2" y2="223.0" stroke="#000" stroke-width="4"/><line x1="265.2" y1="1145.1" x2="277.2" y2="1145.1" stroke="#000" stroke-width="4"/><line x1="265.2" y1="881.6" x2="277.2" y2="881.6" stroke="#000" stroke-width="4"/><line x1="265.2" y1="618.2" x2="277.2" y2="618.2" stroke="#000" stroke-width="4"/><line x1="265.2" y1="354.8" x2="277.2" y2="354.8" stroke="#000" stroke-width="4"/>
<g font-family="'Liberation Serif', serif" font-size="56.8" fill="#000"><text transform="translate(240.5,1293.8) scale(1,1.03)" text-anchor="end">3000</text><text transform="translate(240.5,1030.4) scale(1,1.03)" text-anchor="end">4000</text><text transform="translate(240.5,766.9) scale(1,1.03)" text-anchor="end">5000</text><text transform="translate(240.5,503.5) scale(1,1.03)" text-anchor="end">6000</text><text transform="translate(240.5,240.0) scale(1,1.03)" text-anchor="end">7000</text><text transform="translate(265.2,1346) scale(1,1.03)" text-anchor="middle">0</text><text transform="translate(532.3,1346) scale(1,1.03)" text-anchor="middle">30,000</text><text transform="translate(792.5,1346) scale(1,1.03)" text-anchor="middle">60,000</text><text transform="translate(1052.6,1346) scale(1,1.03)" text-anchor="middle">90,000</text><text transform="translate(1312.7,1346) scale(1,1.03)" text-anchor="middle">120,000</text><text transform="translate(1572.9,1346) scale(1,1.03)" text-anchor="middle">150,000</text></g>
<rect x="868.6" y="761.7" width="658.4" height="420.4" fill="#fff" stroke="#9c9c9c" stroke-width="2.5"/><line x1="876.9" y1="806.4" x2="1028.7" y2="806.4" stroke="#3c3c3c" stroke-width="3"/><text transform="translate(1518,830.4) scale(1,1.068)" text-anchor="end" font-family="'Liberation Sans', Arial, sans-serif" font-size="66.8" style="stroke-width:0.3px" fill="#000">6640 grid cells</text><line x1="876.9" y1="888.7" x2="1028.7" y2="888.7" stroke="#e3363a" stroke-width="3"/><text transform="translate(1518,912.7) scale(1,1.068)" text-anchor="end" font-family="'Liberation Sans', Arial, sans-serif" font-size="66.8" style="stroke-width:0.3px" fill="#000">13,400 grid cells</text><line x1="876.9" y1="971.0" x2="1028.7" y2="971.0" stroke="#1a5fd0" stroke-width="3"/><text transform="translate(1518,995.0) scale(1,1.068)" text-anchor="end" font-family="'Liberation Sans', Arial, sans-serif" font-size="66.8" style="stroke-width:0.3px" fill="#000">15,800 grid cells</text><line x1="876.9" y1="1053.3" x2="1028.7" y2="1053.3" stroke="#2e9b5c" stroke-width="3"/><text transform="translate(1518,1077.3) scale(1,1.068)" text-anchor="end" font-family="'Liberation Sans', Arial, sans-serif" font-size="66.8" style="stroke-width:0.3px" fill="#000">33,200 grid cells</text><line x1="876.9" y1="1135.6" x2="1028.7" y2="1135.6" stroke="#a56fdc" stroke-width="3"/><text transform="translate(1518,1159.6) scale(1,1.068)" text-anchor="end" font-family="'Liberation Sans', Arial, sans-serif" font-size="66.8" style="stroke-width:0.3px" fill="#000">38,200 grid cells</text>
<text transform="translate(849,1449.7) scale(1,1.045)" font-family="'Liberation Serif', 'Noto Serif CJK SC', serif" font-size="68" fill="#000">Time<tspan font-family="'Liberation Serif', 'Noto Serif CJK SC', serif" font-size="55" dx="-1" dy="-4.1">（</tspan><tspan dx="11.5" dy="4.1">h</tspan><tspan font-family="'Liberation Serif', 'Noto Serif CJK SC', serif" font-size="55" dx="6.5" dy="-4.1">）</tspan></text><text transform="translate(88.5,1342.5) rotate(-90) scale(1,1.045)" font-family="'Liberation Serif', serif" font-size="67.3" fill="#000">CO<tspan font-size="45" dy="17.4">2</tspan><tspan dy="-17.4" dx="-5">&#160;concentration in the export section (mol/m</tspan><tspan font-size="45" dy="-26.6">3</tspan><tspan dy="26.6">)</tspan></text>
</svg>
</body></html>
